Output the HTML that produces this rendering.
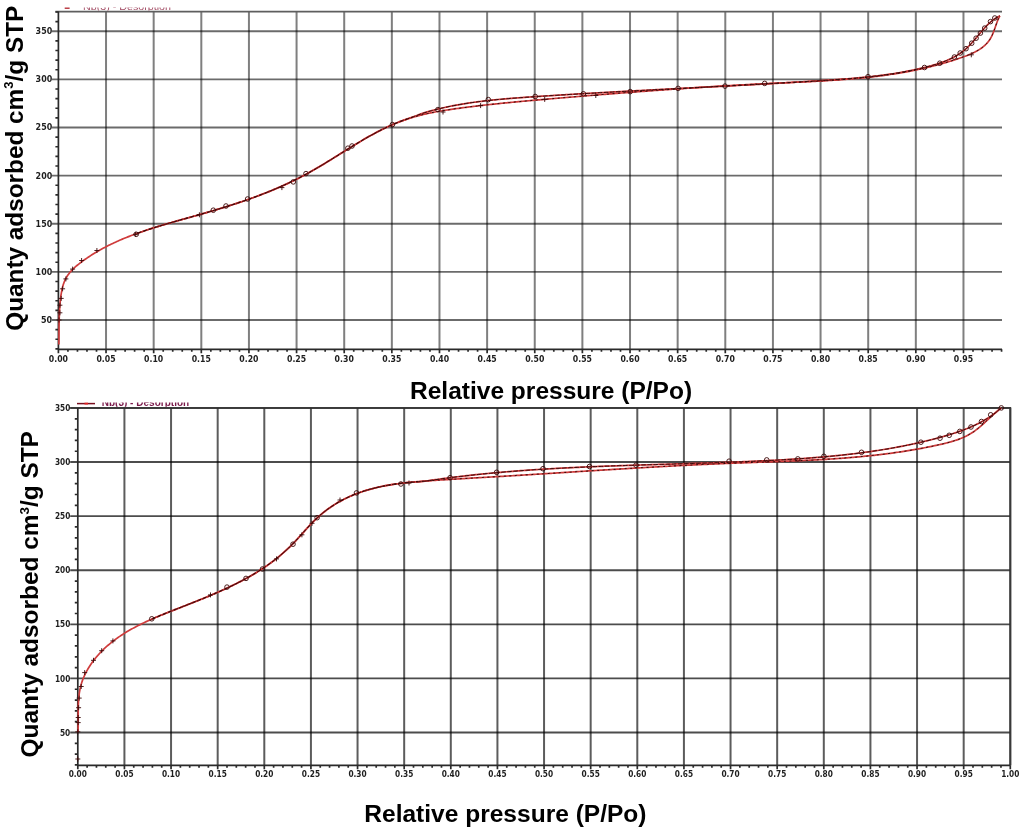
<!DOCTYPE html>
<html><head><meta charset="utf-8"><title>Isotherms</title>
<style>
html,body{margin:0;padding:0;background:#fff;}
body{width:1024px;height:831px;overflow:hidden;}
svg{display:block;}
</style></head><body>
<svg width="1024" height="831" viewBox="0 0 1024 831">
<rect width="1024" height="831" fill="#fff"/>
<defs>
<clipPath id="lg1"><rect x="60" y="7.4" width="130" height="3.2"/></clipPath>
<clipPath id="lg2"><rect x="95" y="402.4" width="100" height="4.3"/></clipPath>
</defs>
<path d="M106.03,11.6V349.3 M153.67,11.6V349.3 M201.31,11.6V349.3 M248.94,11.6V349.3 M296.57,11.6V349.3 M344.21,11.6V349.3 M391.85,11.6V349.3 M439.48,11.6V349.3 M487.12,11.6V349.3 M534.75,11.6V349.3 M582.38,11.6V349.3 M630.02,11.6V349.3 M677.65,11.6V349.3 M725.29,11.6V349.3 M772.93,11.6V349.3 M820.56,11.6V349.3 M868.2,11.6V349.3 M915.83,11.6V349.3 M963.47,11.6V349.3" stroke="#000" stroke-opacity="0.5" stroke-width="2" fill="none"/>
<path d="M52,319.98H1002 M52,271.85H1002 M52,223.73H1002 M52,175.6H1002 M52,127.48H1002 M52,79.35H1002 M52,31.23H1002" stroke="#000" stroke-opacity="0.58" stroke-width="1.9" fill="none"/>
<path d="M55.4,11.6H1002" stroke="#5e5e5e" stroke-width="1.8" fill="none"/>
<path d="M58.4,11.6V349.3 M58.4,349.3H1002 M55.4,348.85H58.4 M55.4,339.23H58.4 M55.4,329.6H58.4 M55.4,310.35H58.4 M55.4,300.73H58.4 M55.4,291.1H58.4 M55.4,281.48H58.4 M55.4,262.23H58.4 M55.4,252.6H58.4 M55.4,242.98H58.4 M55.4,233.35H58.4 M55.4,214.1H58.4 M55.4,204.48H58.4 M55.4,194.85H58.4 M55.4,185.23H58.4 M55.4,165.98H58.4 M55.4,156.35H58.4 M55.4,146.73H58.4 M55.4,137.1H58.4 M55.4,117.85H58.4 M55.4,108.23H58.4 M55.4,98.6H58.4 M55.4,88.98H58.4 M55.4,69.73H58.4 M55.4,60.1H58.4 M55.4,50.48H58.4 M55.4,40.85H58.4 M55.4,21.6H58.4 M55.4,11.98H58.4 M58.4,349.3V353.3 M67.93,349.3V351.8 M77.45,349.3V351.8 M86.98,349.3V351.8 M96.51,349.3V351.8 M106.03,349.3V353.3 M115.56,349.3V351.8 M125.09,349.3V351.8 M134.62,349.3V351.8 M144.14,349.3V351.8 M153.67,349.3V353.3 M163.2,349.3V351.8 M172.72,349.3V351.8 M182.25,349.3V351.8 M191.78,349.3V351.8 M201.31,349.3V353.3 M210.83,349.3V351.8 M220.36,349.3V351.8 M229.89,349.3V351.8 M239.41,349.3V351.8 M248.94,349.3V353.3 M258.47,349.3V351.8 M267.99,349.3V351.8 M277.52,349.3V351.8 M287.05,349.3V351.8 M296.57,349.3V353.3 M306.1,349.3V351.8 M315.63,349.3V351.8 M325.16,349.3V351.8 M334.68,349.3V351.8 M344.21,349.3V353.3 M353.74,349.3V351.8 M363.26,349.3V351.8 M372.79,349.3V351.8 M382.32,349.3V351.8 M391.84,349.3V353.3 M401.37,349.3V351.8 M410.9,349.3V351.8 M420.43,349.3V351.8 M429.95,349.3V351.8 M439.48,349.3V353.3 M449.01,349.3V351.8 M458.53,349.3V351.8 M468.06,349.3V351.8 M477.59,349.3V351.8 M487.12,349.3V353.3 M496.64,349.3V351.8 M506.17,349.3V351.8 M515.7,349.3V351.8 M525.22,349.3V351.8 M534.75,349.3V353.3 M544.28,349.3V351.8 M553.8,349.3V351.8 M563.33,349.3V351.8 M572.86,349.3V351.8 M582.38,349.3V353.3 M591.91,349.3V351.8 M601.44,349.3V351.8 M610.97,349.3V351.8 M620.49,349.3V351.8 M630.02,349.3V353.3 M639.55,349.3V351.8 M649.07,349.3V351.8 M658.6,349.3V351.8 M668.13,349.3V351.8 M677.65,349.3V353.3 M687.18,349.3V351.8 M696.71,349.3V351.8 M706.24,349.3V351.8 M715.76,349.3V351.8 M725.29,349.3V353.3 M734.82,349.3V351.8 M744.34,349.3V351.8 M753.87,349.3V351.8 M763.4,349.3V351.8 M772.93,349.3V353.3 M782.45,349.3V351.8 M791.98,349.3V351.8 M801.51,349.3V351.8 M811.03,349.3V351.8 M820.56,349.3V353.3 M830.09,349.3V351.8 M839.61,349.3V351.8 M849.14,349.3V351.8 M858.67,349.3V351.8 M868.2,349.3V353.3 M877.72,349.3V351.8 M887.25,349.3V351.8 M896.78,349.3V351.8 M906.3,349.3V351.8 M915.83,349.3V353.3 M925.36,349.3V351.8 M934.88,349.3V351.8 M944.41,349.3V351.8 M953.94,349.3V351.8 M963.47,349.3V353.3 M972.99,349.3V351.8 M982.52,349.3V351.8 M992.05,349.3V351.8 M1001.57,349.3V351.8" stroke="#2a2a2a" stroke-width="1.7" fill="none"/>
<g font-family="DejaVu Sans, Liberation Sans, sans-serif" font-weight="bold" font-size="8" fill="#1e1e1e"><text x="58.4" y="361.5" text-anchor="middle" textLength="19.2" lengthAdjust="spacingAndGlyphs">0.00</text><text x="106.03" y="361.5" text-anchor="middle" textLength="19.2" lengthAdjust="spacingAndGlyphs">0.05</text><text x="153.67" y="361.5" text-anchor="middle" textLength="19.2" lengthAdjust="spacingAndGlyphs">0.10</text><text x="201.31" y="361.5" text-anchor="middle" textLength="19.2" lengthAdjust="spacingAndGlyphs">0.15</text><text x="248.94" y="361.5" text-anchor="middle" textLength="19.2" lengthAdjust="spacingAndGlyphs">0.20</text><text x="296.57" y="361.5" text-anchor="middle" textLength="19.2" lengthAdjust="spacingAndGlyphs">0.25</text><text x="344.21" y="361.5" text-anchor="middle" textLength="19.2" lengthAdjust="spacingAndGlyphs">0.30</text><text x="391.85" y="361.5" text-anchor="middle" textLength="19.2" lengthAdjust="spacingAndGlyphs">0.35</text><text x="439.48" y="361.5" text-anchor="middle" textLength="19.2" lengthAdjust="spacingAndGlyphs">0.40</text><text x="487.12" y="361.5" text-anchor="middle" textLength="19.2" lengthAdjust="spacingAndGlyphs">0.45</text><text x="534.75" y="361.5" text-anchor="middle" textLength="19.2" lengthAdjust="spacingAndGlyphs">0.50</text><text x="582.38" y="361.5" text-anchor="middle" textLength="19.2" lengthAdjust="spacingAndGlyphs">0.55</text><text x="630.02" y="361.5" text-anchor="middle" textLength="19.2" lengthAdjust="spacingAndGlyphs">0.60</text><text x="677.65" y="361.5" text-anchor="middle" textLength="19.2" lengthAdjust="spacingAndGlyphs">0.65</text><text x="725.29" y="361.5" text-anchor="middle" textLength="19.2" lengthAdjust="spacingAndGlyphs">0.70</text><text x="772.93" y="361.5" text-anchor="middle" textLength="19.2" lengthAdjust="spacingAndGlyphs">0.75</text><text x="820.56" y="361.5" text-anchor="middle" textLength="19.2" lengthAdjust="spacingAndGlyphs">0.80</text><text x="868.2" y="361.5" text-anchor="middle" textLength="19.2" lengthAdjust="spacingAndGlyphs">0.85</text><text x="915.83" y="361.5" text-anchor="middle" textLength="19.2" lengthAdjust="spacingAndGlyphs">0.90</text><text x="963.47" y="361.5" text-anchor="middle" textLength="19.2" lengthAdjust="spacingAndGlyphs">0.95</text><text x="52.2" y="322.88" text-anchor="end" textLength="11.2" lengthAdjust="spacingAndGlyphs">50</text><text x="52.2" y="274.75" text-anchor="end" textLength="16.6" lengthAdjust="spacingAndGlyphs">100</text><text x="52.2" y="226.63" text-anchor="end" textLength="16.6" lengthAdjust="spacingAndGlyphs">150</text><text x="52.2" y="178.5" text-anchor="end" textLength="16.6" lengthAdjust="spacingAndGlyphs">200</text><text x="52.2" y="130.38" text-anchor="end" textLength="16.6" lengthAdjust="spacingAndGlyphs">250</text><text x="52.2" y="82.25" text-anchor="end" textLength="16.6" lengthAdjust="spacingAndGlyphs">300</text><text x="52.2" y="34.13" text-anchor="end" textLength="16.6" lengthAdjust="spacingAndGlyphs">350</text></g>
<clipPath id="ct"><rect x="136" y="1.6" width="886" height="357.7"/></clipPath>
<path d="M58.9,344.4 L58.92,342.89 L58.94,341.38 L58.96,339.87 L58.97,338.37 L58.98,336.87 L58.99,335.37 L59,333.88 L59.01,332.39 L59.02,330.89 L59.03,329.41 L59.04,327.92 L59.06,326.43 L59.08,324.94 L59.1,323.45 L59.13,321.96 L59.16,320.48 L59.2,318.98 L59.24,317.49 L59.29,316 L59.35,314.5 L59.41,313 L59.49,311.5 L59.57,309.99 L59.67,308.48 L59.77,306.96 L59.89,305.44 L60.01,303.92 L60.15,302.39 L60.31,300.85 L60.47,299.31 L60.65,297.76 L60.85,296.21 L61.07,294.66 L61.32,293.11 L61.59,291.57 L61.89,290.04 L62.23,288.53 L62.6,287.03 L63.01,285.55 L63.47,284.09 L63.97,282.67 L64.52,281.27 L65.12,279.91 L65.78,278.58 L66.5,277.29 L67.27,276.04 L68.1,274.83 L68.97,273.65 L69.88,272.5 L70.84,271.38 L71.83,270.3 L72.86,269.24 L73.93,268.2 L75.02,267.19 L76.14,266.21 L77.28,265.24 L78.45,264.29 L79.62,263.36 L80.82,262.45 L82.02,261.55 L83.23,260.67 L84.45,259.8 L85.68,258.94 L86.91,258.09 L88.15,257.25 L89.39,256.43 L90.64,255.61 L91.9,254.81 L93.16,254.02 L94.43,253.24 L95.71,252.48 L96.99,251.72 L98.27,250.97 L99.57,250.23 L100.86,249.51 L102.17,248.79 L103.48,248.09 L104.79,247.39 L106.11,246.7 L107.43,246.03 L108.76,245.36 L110.1,244.7 L111.44,244.05 L112.78,243.41 L114.13,242.78 L115.48,242.15 L116.84,241.54 L118.2,240.93 L119.57,240.33 L120.94,239.74 L122.31,239.15 L123.69,238.58 L125.07,238.01 L126.46,237.45 L127.85,236.89 L129.24,236.34 L130.64,235.8 L132.04,235.27 L133.44,234.74 L134.85,234.22 L136.26,233.7 L137.67,233.19 L139.09,232.68 L140.51,232.19 L141.93,231.69 L143.35,231.2 L144.78,230.72 L146.21,230.24 L147.64,229.77 L149.07,229.3 L150.51,228.83 L151.95,228.37 L153.39,227.92 L154.83,227.46 L156.27,227.02 L157.72,226.57 L159.17,226.13 L160.62,225.69 L162.07,225.25 L163.52,224.82 L164.97,224.39 L166.42,223.96 L167.88,223.54 L169.34,223.12 L170.79,222.7 L172.25,222.28 L173.71,221.86 L175.17,221.45 L176.63,221.03 L178.09,220.62 L179.55,220.21 L181.01,219.8 L182.47,219.39 L183.93,218.98 L185.39,218.58 L186.85,218.17 L188.31,217.76 L189.77,217.35 L191.23,216.95 L192.69,216.54 L194.15,216.13 L195.6,215.72 L197.06,215.31 L198.52,214.9 L199.97,214.49 L201.43,214.07 L202.88,213.66 L204.33,213.24 L205.78,212.83 L207.23,212.41 L208.68,211.99 L210.12,211.56 L211.57,211.14 L213.02,210.71 L214.46,210.29 L215.9,209.86 L217.34,209.42 L218.78,208.99 L220.22,208.55 L221.66,208.11 L223.09,207.67 L224.53,207.23 L225.96,206.78 L227.39,206.34 L228.82,205.88 L230.25,205.43 L231.68,204.97 L233.1,204.51 L234.53,204.05 L235.95,203.59 L237.37,203.12 L238.79,202.65 L240.21,202.17 L241.62,201.69 L243.04,201.21 L244.45,200.73 L245.86,200.24 L247.27,199.75 L248.68,199.25 L250.09,198.75 L251.49,198.25 L252.9,197.74 L254.3,197.23 L255.7,196.72 L257.09,196.2 L258.49,195.68 L259.88,195.15 L261.28,194.62 L262.67,194.08 L264.06,193.54 L265.44,193 L266.83,192.45 L268.21,191.89 L269.59,191.34 L270.97,190.77 L272.35,190.21 L273.72,189.63 L275.1,189.05 L276.47,188.47 L277.84,187.88 L279.21,187.29 L280.57,186.69 L281.93,186.09 L283.29,185.48 L284.65,184.86 L286.01,184.24 L287.36,183.62 L288.72,182.99 L290.07,182.35 L291.41,181.71 L292.76,181.06 L294.1,180.4 L295.44,179.74 L296.78,179.08 L298.12,178.4 L299.45,177.72 L300.79,177.04 L302.12,176.34 L303.44,175.65 L304.77,174.94 L306.09,174.23 L307.41,173.51 L308.73,172.79 L310.04,172.05 L311.35,171.32 L312.67,170.57 L313.97,169.82 L315.28,169.07 L316.59,168.31 L317.89,167.55 L319.19,166.78 L320.49,166 L321.79,165.23 L323.09,164.45 L324.38,163.66 L325.68,162.88 L326.97,162.09 L328.26,161.29 L329.55,160.5 L330.84,159.7 L332.13,158.9 L333.42,158.1 L334.71,157.3 L336,156.49 L337.29,155.69 L338.58,154.89 L339.87,154.08 L341.15,153.28 L342.44,152.47 L343.73,151.67 L345.02,150.86 L346.31,150.06 L347.6,149.26 L348.88,148.46 L350.18,147.66 L351.47,146.87 L352.76,146.07 L354.05,145.28 L355.34,144.5 L356.64,143.71 L357.93,142.93 L359.23,142.15 L360.53,141.38 L361.83,140.61 L363.13,139.85 L364.43,139.09 L365.74,138.33 L367.05,137.59 L368.36,136.84 L369.67,136.1 L370.98,135.37 L372.29,134.65 L373.61,133.93 L374.93,133.22 L376.25,132.51 L377.58,131.81 L378.91,131.13 L380.24,130.44 L381.57,129.77 L382.91,129.11 L384.25,128.45 L385.59,127.8 L386.94,127.17 L388.29,126.54 L389.64,125.92 L390.99,125.31 L392.35,124.71 L393.72,124.13 L395.09,123.55 L396.46,122.99 L397.83,122.43 L399.21,121.89 L400.6,121.36 L401.99,120.84 L403.38,120.34 L404.78,119.85 L406.18,119.37 L407.58,118.9 L408.99,118.44 L410.41,118 L411.83,117.57 L413.25,117.15 L414.68,116.74 L416.11,116.34 L417.54,115.96 L418.98,115.58 L420.42,115.21 L421.87,114.86 L423.31,114.51 L424.76,114.17 L426.22,113.84 L427.67,113.52 L429.13,113.21 L430.59,112.91 L432.06,112.61 L433.52,112.32 L434.99,112.04 L436.46,111.77 L437.94,111.5 L439.41,111.24 L440.89,110.99 L442.37,110.74 L443.85,110.49 L445.33,110.25 L446.81,110.02 L448.3,109.79 L449.78,109.57 L451.27,109.35 L452.75,109.13 L454.24,108.92 L455.73,108.71 L457.22,108.51 L458.71,108.31 L460.2,108.1 L461.69,107.91 L463.18,107.71 L464.67,107.52 L466.16,107.33 L467.65,107.14 L469.14,106.95 L470.64,106.76 L472.13,106.58 L473.62,106.4 L475.11,106.22 L476.6,106.04 L478.1,105.87 L479.59,105.69 L481.08,105.52 L482.57,105.35 L484.07,105.18 L485.56,105.01 L487.05,104.85 L488.55,104.68 L490.04,104.52 L491.53,104.36 L493.03,104.2 L494.52,104.04 L496.02,103.89 L497.51,103.73 L499,103.58 L500.5,103.42 L501.99,103.27 L503.49,103.12 L504.98,102.97 L506.48,102.83 L507.97,102.68 L509.47,102.53 L510.96,102.39 L512.46,102.25 L513.95,102.1 L515.45,101.96 L516.94,101.82 L518.44,101.68 L519.93,101.54 L521.43,101.41 L522.93,101.27 L524.42,101.13 L525.92,101 L527.41,100.86 L528.91,100.73 L530.4,100.59 L531.9,100.46 L533.4,100.33 L534.89,100.2 L536.39,100.06 L537.88,99.93 L539.38,99.8 L540.88,99.67 L542.37,99.54 L543.87,99.41 L545.36,99.28 L546.86,99.15 L548.35,99.02 L549.85,98.89 L551.35,98.76 L552.84,98.63 L554.34,98.51 L555.83,98.38 L557.33,98.25 L558.82,98.12 L560.32,97.99 L561.82,97.87 L563.31,97.74 L564.81,97.61 L566.3,97.49 L567.8,97.36 L569.29,97.23 L570.79,97.11 L572.29,96.98 L573.78,96.86 L575.28,96.73 L576.77,96.61 L578.27,96.48 L579.76,96.36 L581.26,96.23 L582.76,96.11 L584.25,95.99 L585.75,95.86 L587.24,95.74 L588.74,95.62 L590.23,95.49 L591.73,95.37 L593.23,95.25 L594.72,95.13 L596.22,95.01 L597.71,94.89 L599.21,94.77 L600.71,94.64 L602.2,94.52 L603.7,94.4 L605.19,94.28 L606.69,94.17 L608.18,94.05 L609.68,93.93 L611.18,93.81 L612.67,93.69 L614.17,93.57 L615.67,93.46 L617.16,93.34 L618.66,93.22 L620.15,93.11 L621.65,92.99 L623.15,92.87 L624.64,92.76 L626.14,92.64 L627.64,92.53 L629.13,92.41 L630.63,92.3 L632.13,92.19 L633.62,92.07 L635.12,91.96 L636.62,91.85 L638.11,91.73 L639.61,91.62 L641.11,91.51 L642.6,91.4 L644.1,91.29 L645.6,91.18 L647.09,91.07 L648.59,90.96 L650.09,90.85 L651.59,90.74 L653.08,90.63 L654.58,90.52 L656.08,90.41 L657.57,90.3 L659.07,90.2 L660.57,90.09 L662.07,89.98 L663.57,89.88 L665.06,89.77 L666.56,89.67 L668.06,89.56 L669.56,89.46 L671.06,89.35 L672.55,89.25 L674.05,89.15 L675.55,89.04 L677.05,88.94 L678.55,88.84 L680.05,88.74 L681.54,88.63 L683.04,88.53 L684.54,88.43 L686.04,88.33 L687.54,88.23 L689.04,88.13 L690.54,88.03 L692.04,87.94 L693.54,87.84 L695.03,87.74 L696.53,87.64 L698.03,87.55 L699.53,87.45 L701.03,87.36 L702.53,87.26 L704.03,87.17 L705.53,87.07 L707.03,86.98 L708.53,86.88 L710.03,86.79 L711.53,86.7 L713.03,86.61 L714.54,86.51 L716.04,86.42 L717.54,86.33 L719.04,86.24 L720.54,86.15 L722.04,86.06 L723.54,85.97 L725.04,85.88 L726.54,85.8 L728.05,85.71 L729.55,85.62 L731.05,85.54 L732.55,85.45 L734.05,85.36 L735.55,85.28 L737.06,85.19 L738.56,85.11 L740.06,85.03 L741.56,84.94 L743.07,84.86 L744.57,84.78 L746.07,84.7 L747.58,84.62 L749.08,84.54 L750.58,84.46 L752.09,84.38 L753.59,84.3 L755.09,84.22 L756.6,84.14 L758.1,84.07 L759.61,83.99 L761.11,83.91 L762.61,83.84 L764.12,83.76 L765.62,83.69 L767.13,83.61 L768.63,83.54 L770.14,83.47 L771.64,83.39 L773.15,83.32 L774.66,83.25 L776.16,83.18 L777.67,83.11 L779.17,83.04 L780.68,82.97 L782.19,82.9 L783.69,82.83 L785.2,82.76 L786.7,82.69 L788.21,82.62 L789.72,82.55 L791.22,82.48 L792.73,82.41 L794.24,82.34 L795.74,82.27 L797.25,82.2 L798.75,82.13 L800.26,82.06 L801.77,81.99 L803.27,81.92 L804.78,81.84 L806.28,81.77 L807.79,81.69 L809.3,81.62 L810.8,81.54 L812.31,81.46 L813.81,81.38 L815.32,81.3 L816.82,81.22 L818.33,81.14 L819.83,81.06 L821.34,80.97 L822.84,80.88 L824.34,80.8 L825.85,80.71 L827.35,80.62 L828.85,80.52 L830.36,80.43 L831.86,80.33 L833.36,80.23 L834.86,80.13 L836.36,80.03 L837.87,79.93 L839.37,79.82 L840.87,79.71 L842.37,79.6 L843.87,79.49 L845.37,79.37 L846.86,79.25 L848.36,79.13 L849.86,79.01 L851.36,78.88 L852.86,78.76 L854.35,78.63 L855.85,78.49 L857.34,78.36 L858.84,78.22 L860.33,78.07 L861.83,77.93 L863.32,77.78 L864.81,77.63 L866.31,77.47 L867.8,77.31 L869.29,77.15 L870.78,76.99 L872.27,76.82 L873.76,76.65 L875.25,76.47 L876.74,76.29 L878.22,76.11 L879.71,75.92 L881.2,75.73 L882.68,75.54 L884.17,75.34 L885.65,75.14 L887.14,74.93 L888.62,74.72 L890.1,74.5 L891.58,74.28 L893.06,74.06 L894.54,73.83 L896.02,73.6 L897.5,73.36 L898.98,73.12 L900.45,72.87 L901.93,72.62 L903.4,72.37 L904.88,72.11 L906.35,71.84 L907.82,71.57 L909.29,71.3 L910.76,71.02 L912.23,70.73 L913.7,70.44 L915.17,70.14 L916.63,69.84 L918.1,69.53 L919.56,69.22 L921.03,68.9 L922.49,68.58 L923.95,68.25 L925.41,67.92 L926.87,67.58 L928.33,67.23 L929.79,66.88 L931.24,66.52 L932.7,66.16 L934.15,65.79 L935.6,65.41 L937.06,65.03 L938.51,64.64 L939.96,64.24 L941.41,63.84 L942.85,63.43 L944.3,63.02 L945.74,62.6 L947.19,62.17 L948.63,61.74 L950.07,61.3 L951.51,60.85 L952.95,60.39 L954.39,59.93 L955.82,59.46 L957.26,58.99 L958.69,58.5 L960.13,58.01 L961.56,57.52 L962.99,57.01 L964.41,56.5 L965.83,55.97 L967.24,55.43 L968.64,54.87 L970.03,54.3 L971.41,53.71 L972.77,53.09 L974.1,52.45 L975.42,51.78 L976.72,51.09 L977.99,50.36 L979.23,49.6 L980.44,48.81 L981.62,47.98 L982.76,47.11 L983.87,46.19 L984.94,45.24 L985.97,44.24 L986.96,43.19 L987.9,42.1 L988.8,40.95 L989.64,39.74 L990.44,38.49 L991.18,37.17 L991.87,35.8 L992.52,34.39 L993.13,32.95 L993.71,31.47 L994.27,29.98 L994.81,28.47 L995.34,26.97 L995.86,25.46 L996.38,23.98 L996.91,22.51 L997.46,21.07 L998.02,19.68 L998.61,18.33 L999.23,17.03 L999.89,15.8" stroke="#cf3c3c" stroke-width="1.7" fill="none" stroke-linejoin="round"/>
<g clip-path="url(#ct)">
<path d="M58.9,344.4 L58.92,342.89 L58.94,341.38 L58.96,339.87 L58.97,338.37 L58.98,336.87 L58.99,335.37 L59,333.88 L59.01,332.39 L59.02,330.89 L59.03,329.41 L59.04,327.92 L59.06,326.43 L59.08,324.94 L59.1,323.45 L59.13,321.96 L59.16,320.48 L59.2,318.98 L59.24,317.49 L59.29,316 L59.35,314.5 L59.41,313 L59.49,311.5 L59.57,309.99 L59.67,308.48 L59.77,306.96 L59.89,305.44 L60.01,303.92 L60.15,302.39 L60.31,300.85 L60.47,299.31 L60.65,297.76 L60.85,296.21 L61.07,294.66 L61.32,293.11 L61.59,291.57 L61.89,290.04 L62.23,288.53 L62.6,287.03 L63.01,285.55 L63.47,284.09 L63.97,282.67 L64.52,281.27 L65.12,279.91 L65.78,278.58 L66.5,277.29 L67.27,276.04 L68.1,274.83 L68.97,273.65 L69.88,272.5 L70.84,271.38 L71.83,270.3 L72.86,269.24 L73.93,268.2 L75.02,267.19 L76.14,266.21 L77.28,265.24 L78.45,264.29 L79.62,263.36 L80.82,262.45 L82.02,261.55 L83.23,260.67 L84.45,259.8 L85.68,258.94 L86.91,258.09 L88.15,257.25 L89.39,256.43 L90.64,255.61 L91.9,254.81 L93.16,254.02 L94.43,253.24 L95.71,252.48 L96.99,251.72 L98.27,250.97 L99.57,250.23 L100.86,249.51 L102.17,248.79 L103.48,248.09 L104.79,247.39 L106.11,246.7 L107.43,246.03 L108.76,245.36 L110.1,244.7 L111.44,244.05 L112.78,243.41 L114.13,242.78 L115.48,242.15 L116.84,241.54 L118.2,240.93 L119.57,240.33 L120.94,239.74 L122.31,239.15 L123.69,238.58 L125.07,238.01 L126.46,237.45 L127.85,236.89 L129.24,236.34 L130.64,235.8 L132.04,235.27 L133.44,234.74 L134.85,234.22 L136.26,233.7 L137.67,233.19 L139.09,232.68 L140.51,232.19 L141.93,231.69 L143.35,231.2 L144.78,230.72 L146.21,230.24 L147.64,229.77 L149.07,229.3 L150.51,228.83 L151.95,228.37 L153.39,227.92 L154.83,227.46 L156.27,227.02 L157.72,226.57 L159.17,226.13 L160.62,225.69 L162.07,225.25 L163.52,224.82 L164.97,224.39 L166.42,223.96 L167.88,223.54 L169.34,223.12 L170.79,222.7 L172.25,222.28 L173.71,221.86 L175.17,221.45 L176.63,221.03 L178.09,220.62 L179.55,220.21 L181.01,219.8 L182.47,219.39 L183.93,218.98 L185.39,218.58 L186.85,218.17 L188.31,217.76 L189.77,217.35 L191.23,216.95 L192.69,216.54 L194.15,216.13 L195.6,215.72 L197.06,215.31 L198.52,214.9 L199.97,214.49 L201.43,214.07 L202.88,213.66 L204.33,213.24 L205.78,212.83 L207.23,212.41 L208.68,211.99 L210.12,211.56 L211.57,211.14 L213.02,210.71 L214.46,210.29 L215.9,209.86 L217.34,209.42 L218.78,208.99 L220.22,208.55 L221.66,208.11 L223.09,207.67 L224.53,207.23 L225.96,206.78 L227.39,206.34 L228.82,205.88 L230.25,205.43 L231.68,204.97 L233.1,204.51 L234.53,204.05 L235.95,203.59 L237.37,203.12 L238.79,202.65 L240.21,202.17 L241.62,201.69 L243.04,201.21 L244.45,200.73 L245.86,200.24 L247.27,199.75 L248.68,199.25 L250.09,198.75 L251.49,198.25 L252.9,197.74 L254.3,197.23 L255.7,196.72 L257.09,196.2 L258.49,195.68 L259.88,195.15 L261.28,194.62 L262.67,194.08 L264.06,193.54 L265.44,193 L266.83,192.45 L268.21,191.89 L269.59,191.34 L270.97,190.77 L272.35,190.21 L273.72,189.63 L275.1,189.05 L276.47,188.47 L277.84,187.88 L279.21,187.29 L280.57,186.69 L281.93,186.09 L283.29,185.48 L284.65,184.86 L286.01,184.24 L287.36,183.62 L288.72,182.99 L290.07,182.35 L291.41,181.71 L292.76,181.06 L294.1,180.4 L295.44,179.74 L296.78,179.08 L298.12,178.4 L299.45,177.72 L300.79,177.04 L302.12,176.34 L303.44,175.65 L304.77,174.94 L306.09,174.23 L307.41,173.51 L308.73,172.79 L310.04,172.05 L311.35,171.32 L312.67,170.57 L313.97,169.82 L315.28,169.07 L316.59,168.31 L317.89,167.55 L319.19,166.78 L320.49,166 L321.79,165.23 L323.09,164.45 L324.38,163.66 L325.68,162.88 L326.97,162.09 L328.26,161.29 L329.55,160.5 L330.84,159.7 L332.13,158.9 L333.42,158.1 L334.71,157.3 L336,156.49 L337.29,155.69 L338.58,154.89 L339.87,154.08 L341.15,153.28 L342.44,152.47 L343.73,151.67 L345.02,150.86 L346.31,150.06 L347.6,149.26 L348.88,148.46 L350.18,147.66 L351.47,146.87 L352.76,146.07 L354.05,145.28 L355.34,144.5 L356.64,143.71 L357.93,142.93 L359.23,142.15 L360.53,141.38 L361.83,140.61 L363.13,139.85 L364.43,139.09 L365.74,138.33 L367.05,137.59 L368.36,136.84 L369.67,136.1 L370.98,135.37 L372.29,134.65 L373.61,133.93 L374.93,133.22 L376.25,132.51 L377.58,131.81 L378.91,131.13 L380.24,130.44 L381.57,129.77 L382.91,129.11 L384.25,128.45 L385.59,127.8 L386.94,127.17 L388.29,126.54 L389.64,125.92 L390.99,125.31 L392.35,124.71 L393.72,124.13 L395.09,123.55 L396.46,122.99 L397.83,122.43 L399.21,121.89 L400.6,121.36 L401.99,120.84 L403.38,120.33 L404.78,119.83 L406.18,119.33 L407.58,118.83 L408.99,118.33 L410.41,117.82 L411.83,117.3 L413.25,116.78 L414.68,116.26 L416.11,115.73 L417.54,115.19 L418.98,114.66 L420.42,114.13 L421.87,113.62 L423.31,113.12 L424.76,112.64 L427.42,111.85 L428.85,111.44 L430.28,111.04 L431.72,110.65 L433.15,110.27 L434.59,109.89 L436.03,109.52 L437.47,109.16 L438.92,108.81 L440.36,108.46 L441.81,108.12 L443.27,107.79 L444.72,107.47 L446.17,107.15 L447.63,106.84 L449.09,106.53 L450.55,106.24 L452.02,105.94 L453.48,105.66 L454.95,105.38 L456.42,105.11 L457.89,104.84 L459.37,104.58 L460.84,104.32 L462.32,104.07 L463.79,103.83 L465.27,103.59 L466.75,103.36 L468.24,103.13 L469.72,102.91 L471.21,102.69 L472.69,102.48 L474.18,102.27 L475.67,102.06 L477.16,101.87 L478.65,101.67 L480.15,101.48 L481.64,101.3 L483.14,101.11 L484.63,100.94 L486.13,100.76 L487.63,100.6 L489.13,100.43 L490.63,100.27 L492.13,100.11 L493.63,99.96 L495.14,99.8 L496.64,99.66 L498.15,99.51 L499.65,99.37 L501.16,99.23 L502.66,99.09 L504.17,98.96 L505.68,98.83 L507.19,98.7 L508.7,98.58 L510.2,98.45 L511.71,98.33 L513.22,98.21 L514.73,98.1 L516.24,97.98 L517.75,97.87 L519.27,97.75 L520.78,97.64 L522.29,97.54 L523.8,97.43 L525.31,97.32 L526.82,97.22 L528.33,97.11 L529.84,97.01 L531.35,96.91 L532.86,96.81 L534.37,96.71 L535.88,96.61 L537.39,96.51 L538.9,96.41 L540.41,96.31 L541.92,96.21 L543.43,96.11 L544.94,96.02 L546.45,95.92 L547.95,95.82 L549.46,95.73 L550.97,95.63 L552.48,95.53 L553.98,95.44 L555.49,95.35 L557,95.25 L558.5,95.16 L560.01,95.06 L561.51,94.97 L563.02,94.88 L564.52,94.79 L566.03,94.69 L567.53,94.6 L569.04,94.51 L570.54,94.42 L572.05,94.33 L573.55,94.24 L575.05,94.15 L576.56,94.06 L578.06,93.97 L579.56,93.89 L581.07,93.8 L582.57,93.71 L584.07,93.62 L585.57,93.53 L587.08,93.45 L588.58,93.36 L590.08,93.27 L591.58,93.19 L593.08,93.1 L594.58,93.02 L596.09,92.93 L597.59,92.85 L599.09,92.76 L600.59,92.68 L602.09,92.59 L603.59,92.51 L605.09,92.43 L606.59,92.34 L608.09,92.26 L609.59,92.18 L611.09,92.09 L612.59,92.01 L614.08,91.93 L615.58,91.85 L617.08,91.77 L618.58,91.68 L620.08,91.6 L621.58,91.52 L623.08,91.44 L624.57,91.36 L626.07,91.28 L627.57,91.2 L629.07,91.12 L630.57,91.04 L632.06,90.96 L633.56,90.88 L635.06,90.8 L636.56,90.72 L638.05,90.64 L639.55,90.56 L641.05,90.48 L642.54,90.4 L644.04,90.33 L645.54,90.25 L647.03,90.17 L648.53,90.09 L650.03,90.01 L651.52,89.93 L653.02,89.86 L654.51,89.78 L656.01,89.7 L657.51,89.62 L659,89.55 L660.5,89.47 L661.99,89.39 L663.49,89.31 L664.98,89.24 L666.48,89.16 L667.98,89.08 L669.47,89 L670.97,88.93 L672.46,88.85 L673.96,88.77 L675.45,88.7 L676.95,88.62 L678.44,88.54 L679.94,88.47 L681.43,88.39 L682.93,88.31 L684.42,88.23 L685.92,88.16 L687.41,88.08 L688.91,88 L690.4,87.93 L691.9,87.85 L693.39,87.77 L694.89,87.7 L696.38,87.62 L697.88,87.54 L699.37,87.46 L700.87,87.39 L702.36,87.31 L703.86,87.23 L705.35,87.16 L706.85,87.08 L708.34,87 L709.84,86.92 L711.33,86.85 L712.83,86.77 L714.32,86.69 L715.82,86.61 L717.31,86.53 L718.81,86.46 L720.3,86.38 L721.8,86.3 L723.29,86.22 L724.79,86.14 L726.28,86.06 L727.78,85.99 L729.27,85.91 L730.77,85.83 L732.26,85.75 L733.76,85.67 L735.25,85.59 L736.75,85.51 L738.25,85.43 L739.74,85.35 L741.24,85.27 L742.73,85.19 L744.23,85.11 L745.72,85.03 L747.22,84.95 L748.72,84.87 L750.21,84.78 L751.71,84.7 L753.21,84.62 L754.7,84.54 L756.2,84.46 L757.7,84.37 L759.19,84.29 L760.69,84.21 L762.19,84.13 L763.68,84.04 L765.18,83.96 L766.68,83.87 L768.18,83.79 L769.67,83.71 L771.17,83.62 L772.67,83.54 L774.17,83.45 L775.66,83.37 L777.16,83.28 L778.66,83.19 L780.16,83.11 L781.66,83.02 L783.16,82.93 L784.65,82.85 L786.15,82.76 L787.65,82.67 L789.15,82.58 L790.65,82.49 L792.15,82.41 L793.65,82.32 L795.15,82.23 L796.65,82.14 L798.15,82.05 L799.65,81.96 L801.15,81.86 L802.65,81.77 L804.15,81.68 L805.65,81.59 L807.16,81.5 L808.66,81.4 L810.16,81.31 L811.66,81.22 L813.16,81.12 L814.66,81.03 L816.17,80.93 L817.67,80.84 L819.17,80.74 L820.67,80.65 L822.18,80.55 L823.68,80.45 L825.18,80.35 L826.69,80.26 L828.19,80.16 L829.7,80.06 L831.2,79.96 L832.7,79.85 L834.21,79.75 L835.71,79.65 L837.22,79.54 L838.72,79.43 L840.22,79.32 L841.73,79.21 L843.23,79.1 L844.74,78.98 L846.24,78.87 L847.74,78.75 L849.25,78.63 L850.75,78.51 L852.25,78.38 L853.76,78.25 L855.26,78.12 L856.76,77.99 L858.26,77.85 L859.76,77.71 L861.27,77.57 L862.77,77.43 L864.27,77.28 L865.77,77.13 L867.27,76.97 L868.77,76.82 L870.27,76.66 L871.77,76.49 L873.26,76.32 L874.76,76.15 L876.26,75.97 L877.75,75.79 L879.25,75.61 L880.75,75.42 L882.24,75.22 L883.74,75.03 L885.23,74.82 L886.72,74.62 L888.21,74.4 L889.71,74.19 L891.2,73.97 L892.69,73.74 L894.18,73.51 L895.67,73.27 L897.15,73.03 L898.64,72.78 L900.13,72.53 L901.61,72.27 L903.1,72.01 L904.58,71.74 L906.06,71.46 L907.54,71.18 L909.02,70.89 L910.5,70.6 L911.98,70.3 L913.46,69.99 L914.94,69.67 L916.41,69.35 L917.89,69.03 L919.36,68.69 L920.83,68.35 L922.3,68.01 L923.77,67.65 L925.24,67.29 L926.71,66.92 L928.18,66.54 L929.64,66.16 L931.1,65.76 L932.55,65.35 L934,64.93 L935.45,64.5 L936.88,64.05 L938.32,63.59 L939.74,63.12 L941.15,62.62 L942.56,62.11 L943.96,61.59 L945.34,61.04 L946.72,60.48 L948.08,59.89 L949.44,59.29 L950.77,58.66 L952.1,58.01 L953.41,57.33 L954.71,56.63 L955.99,55.91 L957.25,55.16 L958.5,54.38 L959.73,53.57 L960.94,52.74 L962.13,51.87 L963.3,50.98 L964.45,50.05 L965.58,49.09 L966.69,48.1 L967.78,47.08 L968.85,46.03 L969.9,44.95 L970.94,43.85 L971.96,42.74 L972.98,41.6 L973.98,40.45 L974.98,39.29 L975.97,38.12 L976.95,36.94 L977.94,35.76 L978.92,34.58 L979.9,33.4 L980.89,32.23 L981.88,31.07 L982.88,29.91 L983.89,28.77 L984.9,27.65 L985.93,26.54 L986.98,25.46 L988.04,24.4 L989.11,23.37 L990.21,22.37 L991.33,21.4 L992.47,20.47 L993.63,19.58 L994.82,18.73 L996.04,17.92 L997.29,17.16 L998.58,16.45 L999.89,15.8" stroke="#cf3c3c" stroke-width="1.7" fill="none" stroke-linejoin="round"/>
<path d="M58.9,344.4 L58.92,342.89 L58.94,341.38 L58.96,339.87 L58.97,338.37 L58.98,336.87 L58.99,335.37 L59,333.88 L59.01,332.39 L59.02,330.89 L59.03,329.41 L59.04,327.92 L59.06,326.43 L59.08,324.94 L59.1,323.45 L59.13,321.96 L59.16,320.48 L59.2,318.98 L59.24,317.49 L59.29,316 L59.35,314.5 L59.41,313 L59.49,311.5 L59.57,309.99 L59.67,308.48 L59.77,306.96 L59.89,305.44 L60.01,303.92 L60.15,302.39 L60.31,300.85 L60.47,299.31 L60.65,297.76 L60.85,296.21 L61.07,294.66 L61.32,293.11 L61.59,291.57 L61.89,290.04 L62.23,288.53 L62.6,287.03 L63.01,285.55 L63.47,284.09 L63.97,282.67 L64.52,281.27 L65.12,279.91 L65.78,278.58 L66.5,277.29 L67.27,276.04 L68.1,274.83 L68.97,273.65 L69.88,272.5 L70.84,271.38 L71.83,270.3 L72.86,269.24 L73.93,268.2 L75.02,267.19 L76.14,266.21 L77.28,265.24 L78.45,264.29 L79.62,263.36 L80.82,262.45 L82.02,261.55 L83.23,260.67 L84.45,259.8 L85.68,258.94 L86.91,258.09 L88.15,257.25 L89.39,256.43 L90.64,255.61 L91.9,254.81 L93.16,254.02 L94.43,253.24 L95.71,252.48 L96.99,251.72 L98.27,250.97 L99.57,250.23 L100.86,249.51 L102.17,248.79 L103.48,248.09 L104.79,247.39 L106.11,246.7 L107.43,246.03 L108.76,245.36 L110.1,244.7 L111.44,244.05 L112.78,243.41 L114.13,242.78 L115.48,242.15 L116.84,241.54 L118.2,240.93 L119.57,240.33 L120.94,239.74 L122.31,239.15 L123.69,238.58 L125.07,238.01 L126.46,237.45 L127.85,236.89 L129.24,236.34 L130.64,235.8 L132.04,235.27 L133.44,234.74 L134.85,234.22 L136.26,233.7 L137.67,233.19 L139.09,232.68 L140.51,232.19 L141.93,231.69 L143.35,231.2 L144.78,230.72 L146.21,230.24 L147.64,229.77 L149.07,229.3 L150.51,228.83 L151.95,228.37 L153.39,227.92 L154.83,227.46 L156.27,227.02 L157.72,226.57 L159.17,226.13 L160.62,225.69 L162.07,225.25 L163.52,224.82 L164.97,224.39 L166.42,223.96 L167.88,223.54 L169.34,223.12 L170.79,222.7 L172.25,222.28 L173.71,221.86 L175.17,221.45 L176.63,221.03 L178.09,220.62 L179.55,220.21 L181.01,219.8 L182.47,219.39 L183.93,218.98 L185.39,218.58 L186.85,218.17 L188.31,217.76 L189.77,217.35 L191.23,216.95 L192.69,216.54 L194.15,216.13 L195.6,215.72 L197.06,215.31 L198.52,214.9 L199.97,214.49 L201.43,214.07 L202.88,213.66 L204.33,213.24 L205.78,212.83 L207.23,212.41 L208.68,211.99 L210.12,211.56 L211.57,211.14 L213.02,210.71 L214.46,210.29 L215.9,209.86 L217.34,209.42 L218.78,208.99 L220.22,208.55 L221.66,208.11 L223.09,207.67 L224.53,207.23 L225.96,206.78 L227.39,206.34 L228.82,205.88 L230.25,205.43 L231.68,204.97 L233.1,204.51 L234.53,204.05 L235.95,203.59 L237.37,203.12 L238.79,202.65 L240.21,202.17 L241.62,201.69 L243.04,201.21 L244.45,200.73 L245.86,200.24 L247.27,199.75 L248.68,199.25 L250.09,198.75 L251.49,198.25 L252.9,197.74 L254.3,197.23 L255.7,196.72 L257.09,196.2 L258.49,195.68 L259.88,195.15 L261.28,194.62 L262.67,194.08 L264.06,193.54 L265.44,193 L266.83,192.45 L268.21,191.89 L269.59,191.34 L270.97,190.77 L272.35,190.21 L273.72,189.63 L275.1,189.05 L276.47,188.47 L277.84,187.88 L279.21,187.29 L280.57,186.69 L281.93,186.09 L283.29,185.48 L284.65,184.86 L286.01,184.24 L287.36,183.62 L288.72,182.99 L290.07,182.35 L291.41,181.71 L292.76,181.06 L294.1,180.4 L295.44,179.74 L296.78,179.08 L298.12,178.4 L299.45,177.72 L300.79,177.04 L302.12,176.34 L303.44,175.65 L304.77,174.94 L306.09,174.23 L307.41,173.51 L308.73,172.79 L310.04,172.05 L311.35,171.32 L312.67,170.57 L313.97,169.82 L315.28,169.07 L316.59,168.31 L317.89,167.55 L319.19,166.78 L320.49,166 L321.79,165.23 L323.09,164.45 L324.38,163.66 L325.68,162.88 L326.97,162.09 L328.26,161.29 L329.55,160.5 L330.84,159.7 L332.13,158.9 L333.42,158.1 L334.71,157.3 L336,156.49 L337.29,155.69 L338.58,154.89 L339.87,154.08 L341.15,153.28 L342.44,152.47 L343.73,151.67 L345.02,150.86 L346.31,150.06 L347.6,149.26 L348.88,148.46 L350.18,147.66 L351.47,146.87 L352.76,146.07 L354.05,145.28 L355.34,144.5 L356.64,143.71 L357.93,142.93 L359.23,142.15 L360.53,141.38 L361.83,140.61 L363.13,139.85 L364.43,139.09 L365.74,138.33 L367.05,137.59 L368.36,136.84 L369.67,136.1 L370.98,135.37 L372.29,134.65 L373.61,133.93 L374.93,133.22 L376.25,132.51 L377.58,131.81 L378.91,131.13 L380.24,130.44 L381.57,129.77 L382.91,129.11 L384.25,128.45 L385.59,127.8 L386.94,127.17 L388.29,126.54 L389.64,125.92 L390.99,125.31 L392.35,124.71 L393.72,124.13 L395.09,123.55 L396.46,122.99 L397.83,122.43 L399.21,121.89 L400.6,121.36 L401.99,120.84 L403.38,120.34 L404.78,119.85 L406.18,119.37 L407.58,118.9 L408.99,118.44 L410.41,118 L411.83,117.57 L413.25,117.15 L414.68,116.74 L416.11,116.34 L417.54,115.96 L418.98,115.58 L420.42,115.21 L421.87,114.86 L423.31,114.51 L424.76,114.17 L426.22,113.84 L427.67,113.52 L429.13,113.21 L430.59,112.91 L432.06,112.61 L433.52,112.32 L434.99,112.04 L436.46,111.77 L437.94,111.5 L439.41,111.24 L440.89,110.99 L442.37,110.74 L443.85,110.49 L445.33,110.25 L446.81,110.02 L448.3,109.79 L449.78,109.57 L451.27,109.35 L452.75,109.13 L454.24,108.92 L455.73,108.71 L457.22,108.51 L458.71,108.31 L460.2,108.1 L461.69,107.91 L463.18,107.71 L464.67,107.52 L466.16,107.33 L467.65,107.14 L469.14,106.95 L470.64,106.76 L472.13,106.58 L473.62,106.4 L475.11,106.22 L476.6,106.04 L478.1,105.87 L479.59,105.69 L481.08,105.52 L482.57,105.35 L484.07,105.18 L485.56,105.01 L487.05,104.85 L488.55,104.68 L490.04,104.52 L491.53,104.36 L493.03,104.2 L494.52,104.04 L496.02,103.89 L497.51,103.73 L499,103.58 L500.5,103.42 L501.99,103.27 L503.49,103.12 L504.98,102.97 L506.48,102.83 L507.97,102.68 L509.47,102.53 L510.96,102.39 L512.46,102.25 L513.95,102.1 L515.45,101.96 L516.94,101.82 L518.44,101.68 L519.93,101.54 L521.43,101.41 L522.93,101.27 L524.42,101.13 L525.92,101 L527.41,100.86 L528.91,100.73 L530.4,100.59 L531.9,100.46 L533.4,100.33 L534.89,100.2 L536.39,100.06 L537.88,99.93 L539.38,99.8 L540.88,99.67 L542.37,99.54 L543.87,99.41 L545.36,99.28 L546.86,99.15 L548.35,99.02 L549.85,98.89 L551.35,98.76 L552.84,98.63 L554.34,98.51 L555.83,98.38 L557.33,98.25 L558.82,98.12 L560.32,97.99 L561.82,97.87 L563.31,97.74 L564.81,97.61 L566.3,97.49 L567.8,97.36 L569.29,97.23 L570.79,97.11 L572.29,96.98 L573.78,96.86 L575.28,96.73 L576.77,96.61 L578.27,96.48 L579.76,96.36 L581.26,96.23 L582.76,96.11 L584.25,95.99 L585.75,95.86 L587.24,95.74 L588.74,95.62 L590.23,95.49 L591.73,95.37 L593.23,95.25 L594.72,95.13 L596.22,95.01 L597.71,94.89 L599.21,94.77 L600.71,94.64 L602.2,94.52 L603.7,94.4 L605.19,94.28 L606.69,94.17 L608.18,94.05 L609.68,93.93 L611.18,93.81 L612.67,93.69 L614.17,93.57 L615.67,93.46 L617.16,93.34 L618.66,93.22 L620.15,93.11 L621.65,92.99 L623.15,92.87 L624.64,92.76 L626.14,92.64 L627.64,92.53 L629.13,92.41 L630.63,92.3 L632.13,92.19 L633.62,92.07 L635.12,91.96 L636.62,91.85 L638.11,91.73 L639.61,91.62 L641.11,91.51 L642.6,91.4 L644.1,91.29 L645.6,91.18 L647.09,91.07 L648.59,90.96 L650.09,90.85 L651.59,90.74 L653.08,90.63 L654.58,90.52 L656.08,90.41 L657.57,90.3 L659.07,90.2 L660.57,90.09 L662.07,89.98 L663.57,89.88 L665.06,89.77 L666.56,89.67 L668.06,89.56 L669.56,89.46 L671.06,89.35 L672.55,89.25 L674.05,89.15 L675.55,89.04 L677.05,88.94 L678.55,88.84 L680.05,88.74 L681.54,88.63 L683.04,88.53 L684.54,88.43 L686.04,88.33 L687.54,88.23 L689.04,88.13 L690.54,88.03 L692.04,87.94 L693.54,87.84 L695.03,87.74 L696.53,87.64 L698.03,87.55 L699.53,87.45 L701.03,87.36 L702.53,87.26 L704.03,87.17 L705.53,87.07 L707.03,86.98 L708.53,86.88 L710.03,86.79 L711.53,86.7 L713.03,86.61 L714.54,86.51 L716.04,86.42 L717.54,86.33 L719.04,86.24 L720.54,86.15 L722.04,86.06 L723.54,85.97 L725.04,85.88 L726.54,85.8 L728.05,85.71 L729.55,85.62 L731.05,85.54 L732.55,85.45 L734.05,85.36 L735.55,85.28 L737.06,85.19 L738.56,85.11 L740.06,85.03 L741.56,84.94 L743.07,84.86 L744.57,84.78 L746.07,84.7 L747.58,84.62 L749.08,84.54 L750.58,84.46 L752.09,84.38 L753.59,84.3 L755.09,84.22 L756.6,84.14 L758.1,84.07 L759.61,83.99 L761.11,83.91 L762.61,83.84 L764.12,83.76 L765.62,83.69 L767.13,83.61 L768.63,83.54 L770.14,83.47 L771.64,83.39 L773.15,83.32 L774.66,83.25 L776.16,83.18 L777.67,83.11 L779.17,83.04 L780.68,82.97 L782.19,82.9 L783.69,82.83 L785.2,82.76 L786.7,82.69 L788.21,82.62 L789.72,82.55 L791.22,82.48 L792.73,82.41 L794.24,82.34 L795.74,82.27 L797.25,82.2 L798.75,82.13 L800.26,82.06 L801.77,81.99 L803.27,81.92 L804.78,81.84 L806.28,81.77 L807.79,81.69 L809.3,81.62 L810.8,81.54 L812.31,81.46 L813.81,81.38 L815.32,81.3 L816.82,81.22 L818.33,81.14 L819.83,81.06 L821.34,80.97 L822.84,80.88 L824.34,80.8 L825.85,80.71 L827.35,80.62 L828.85,80.52 L830.36,80.43 L831.86,80.33 L833.36,80.23 L834.86,80.13 L836.36,80.03 L837.87,79.93 L839.37,79.82 L840.87,79.71 L842.37,79.6 L843.87,79.49 L845.37,79.37 L846.86,79.25 L848.36,79.13 L849.86,79.01 L851.36,78.88 L852.86,78.76 L854.35,78.63 L855.85,78.49 L857.34,78.36 L858.84,78.22 L860.33,78.07 L861.83,77.93 L863.32,77.78 L864.81,77.63 L866.31,77.47 L867.8,77.31 L869.29,77.15 L870.78,76.99 L872.27,76.82 L873.76,76.65 L875.25,76.47 L876.74,76.29 L878.22,76.11 L879.71,75.92 L881.2,75.73 L882.68,75.54 L884.17,75.34 L885.65,75.14 L887.14,74.93 L888.62,74.72 L890.1,74.5 L891.58,74.28 L893.06,74.06 L894.54,73.83 L896.02,73.6 L897.5,73.36 L898.98,73.12 L900.45,72.87 L901.93,72.62 L903.4,72.37 L904.88,72.11 L906.35,71.84 L907.82,71.57 L909.29,71.3 L910.76,71.02 L912.23,70.73 L913.7,70.44 L915.17,70.14 L916.63,69.84 L918.1,69.53 L919.56,69.22 L921.03,68.9 L922.49,68.58 L923.95,68.25 L925.41,67.92 L926.87,67.58 L928.33,67.23 L929.79,66.88 L931.24,66.52 L932.7,66.16 L934.15,65.79 L935.6,65.41 L937.06,65.03 L938.51,64.64 L939.96,64.24 L941.41,63.84 L942.85,63.43 L944.3,63.02 L945.74,62.6 L947.19,62.17 L948.63,61.74 L950.07,61.3 L951.51,60.85 L952.95,60.39 L954.39,59.93 L955.82,59.46 L957.26,58.99 L958.69,58.5 L960.13,58.01 L961.56,57.52 L962.99,57.01 L964.41,56.5 L965.83,55.97 L967.24,55.43 L968.64,54.87 L970.03,54.3 L971.41,53.71 L972.77,53.09 L974.1,52.45 L975.42,51.78 L976.72,51.09 L977.99,50.36 L979.23,49.6 L980.44,48.81 L981.62,47.98 L982.76,47.11 L983.87,46.19 L984.94,45.24 L985.97,44.24 L986.96,43.19 L987.9,42.1 L988.8,40.95 L989.64,39.74 L990.44,38.49 L991.18,37.17 L991.87,35.8 L992.52,34.39 L993.13,32.95 L993.71,31.47 L994.27,29.98 L994.81,28.47 L995.34,26.97 L995.86,25.46 L996.38,23.98 L996.91,22.51 L997.46,21.07 L998.02,19.68 L998.61,18.33 L999.23,17.03 L999.89,15.8" stroke="#2a0505" stroke-width="0.95" fill="none" stroke-dasharray="2 3.5"/>
<path d="M58.9,344.4 L58.92,342.89 L58.94,341.38 L58.96,339.87 L58.97,338.37 L58.98,336.87 L58.99,335.37 L59,333.88 L59.01,332.39 L59.02,330.89 L59.03,329.41 L59.04,327.92 L59.06,326.43 L59.08,324.94 L59.1,323.45 L59.13,321.96 L59.16,320.48 L59.2,318.98 L59.24,317.49 L59.29,316 L59.35,314.5 L59.41,313 L59.49,311.5 L59.57,309.99 L59.67,308.48 L59.77,306.96 L59.89,305.44 L60.01,303.92 L60.15,302.39 L60.31,300.85 L60.47,299.31 L60.65,297.76 L60.85,296.21 L61.07,294.66 L61.32,293.11 L61.59,291.57 L61.89,290.04 L62.23,288.53 L62.6,287.03 L63.01,285.55 L63.47,284.09 L63.97,282.67 L64.52,281.27 L65.12,279.91 L65.78,278.58 L66.5,277.29 L67.27,276.04 L68.1,274.83 L68.97,273.65 L69.88,272.5 L70.84,271.38 L71.83,270.3 L72.86,269.24 L73.93,268.2 L75.02,267.19 L76.14,266.21 L77.28,265.24 L78.45,264.29 L79.62,263.36 L80.82,262.45 L82.02,261.55 L83.23,260.67 L84.45,259.8 L85.68,258.94 L86.91,258.09 L88.15,257.25 L89.39,256.43 L90.64,255.61 L91.9,254.81 L93.16,254.02 L94.43,253.24 L95.71,252.48 L96.99,251.72 L98.27,250.97 L99.57,250.23 L100.86,249.51 L102.17,248.79 L103.48,248.09 L104.79,247.39 L106.11,246.7 L107.43,246.03 L108.76,245.36 L110.1,244.7 L111.44,244.05 L112.78,243.41 L114.13,242.78 L115.48,242.15 L116.84,241.54 L118.2,240.93 L119.57,240.33 L120.94,239.74 L122.31,239.15 L123.69,238.58 L125.07,238.01 L126.46,237.45 L127.85,236.89 L129.24,236.34 L130.64,235.8 L132.04,235.27 L133.44,234.74 L134.85,234.22 L136.26,233.7 L137.67,233.19 L139.09,232.68 L140.51,232.19 L141.93,231.69 L143.35,231.2 L144.78,230.72 L146.21,230.24 L147.64,229.77 L149.07,229.3 L150.51,228.83 L151.95,228.37 L153.39,227.92 L154.83,227.46 L156.27,227.02 L157.72,226.57 L159.17,226.13 L160.62,225.69 L162.07,225.25 L163.52,224.82 L164.97,224.39 L166.42,223.96 L167.88,223.54 L169.34,223.12 L170.79,222.7 L172.25,222.28 L173.71,221.86 L175.17,221.45 L176.63,221.03 L178.09,220.62 L179.55,220.21 L181.01,219.8 L182.47,219.39 L183.93,218.98 L185.39,218.58 L186.85,218.17 L188.31,217.76 L189.77,217.35 L191.23,216.95 L192.69,216.54 L194.15,216.13 L195.6,215.72 L197.06,215.31 L198.52,214.9 L199.97,214.49 L201.43,214.07 L202.88,213.66 L204.33,213.24 L205.78,212.83 L207.23,212.41 L208.68,211.99 L210.12,211.56 L211.57,211.14 L213.02,210.71 L214.46,210.29 L215.9,209.86 L217.34,209.42 L218.78,208.99 L220.22,208.55 L221.66,208.11 L223.09,207.67 L224.53,207.23 L225.96,206.78 L227.39,206.34 L228.82,205.88 L230.25,205.43 L231.68,204.97 L233.1,204.51 L234.53,204.05 L235.95,203.59 L237.37,203.12 L238.79,202.65 L240.21,202.17 L241.62,201.69 L243.04,201.21 L244.45,200.73 L245.86,200.24 L247.27,199.75 L248.68,199.25 L250.09,198.75 L251.49,198.25 L252.9,197.74 L254.3,197.23 L255.7,196.72 L257.09,196.2 L258.49,195.68 L259.88,195.15 L261.28,194.62 L262.67,194.08 L264.06,193.54 L265.44,193 L266.83,192.45 L268.21,191.89 L269.59,191.34 L270.97,190.77 L272.35,190.21 L273.72,189.63 L275.1,189.05 L276.47,188.47 L277.84,187.88 L279.21,187.29 L280.57,186.69 L281.93,186.09 L283.29,185.48 L284.65,184.86 L286.01,184.24 L287.36,183.62 L288.72,182.99 L290.07,182.35 L291.41,181.71 L292.76,181.06 L294.1,180.4 L295.44,179.74 L296.78,179.08 L298.12,178.4 L299.45,177.72 L300.79,177.04 L302.12,176.34 L303.44,175.65 L304.77,174.94 L306.09,174.23 L307.41,173.51 L308.73,172.79 L310.04,172.05 L311.35,171.32 L312.67,170.57 L313.97,169.82 L315.28,169.07 L316.59,168.31 L317.89,167.55 L319.19,166.78 L320.49,166 L321.79,165.23 L323.09,164.45 L324.38,163.66 L325.68,162.88 L326.97,162.09 L328.26,161.29 L329.55,160.5 L330.84,159.7 L332.13,158.9 L333.42,158.1 L334.71,157.3 L336,156.49 L337.29,155.69 L338.58,154.89 L339.87,154.08 L341.15,153.28 L342.44,152.47 L343.73,151.67 L345.02,150.86 L346.31,150.06 L347.6,149.26 L348.88,148.46 L350.18,147.66 L351.47,146.87 L352.76,146.07 L354.05,145.28 L355.34,144.5 L356.64,143.71 L357.93,142.93 L359.23,142.15 L360.53,141.38 L361.83,140.61 L363.13,139.85 L364.43,139.09 L365.74,138.33 L367.05,137.59 L368.36,136.84 L369.67,136.1 L370.98,135.37 L372.29,134.65 L373.61,133.93 L374.93,133.22 L376.25,132.51 L377.58,131.81 L378.91,131.13 L380.24,130.44 L381.57,129.77 L382.91,129.11 L384.25,128.45 L385.59,127.8 L386.94,127.17 L388.29,126.54 L389.64,125.92 L390.99,125.31 L392.35,124.71 L393.72,124.13 L395.09,123.55 L396.46,122.99 L397.83,122.43 L399.21,121.89 L400.6,121.36 L401.99,120.84 L403.38,120.33 L404.78,119.83 L406.18,119.33 L407.58,118.83 L408.99,118.33 L410.41,117.82 L411.83,117.3 L413.25,116.78 L414.68,116.26 L416.11,115.73 L417.54,115.19 L418.98,114.66 L420.42,114.13 L421.87,113.62 L423.31,113.12 L424.76,112.64 L427.42,111.85 L428.85,111.44 L430.28,111.04 L431.72,110.65 L433.15,110.27 L434.59,109.89 L436.03,109.52 L437.47,109.16 L438.92,108.81 L440.36,108.46 L441.81,108.12 L443.27,107.79 L444.72,107.47 L446.17,107.15 L447.63,106.84 L449.09,106.53 L450.55,106.24 L452.02,105.94 L453.48,105.66 L454.95,105.38 L456.42,105.11 L457.89,104.84 L459.37,104.58 L460.84,104.32 L462.32,104.07 L463.79,103.83 L465.27,103.59 L466.75,103.36 L468.24,103.13 L469.72,102.91 L471.21,102.69 L472.69,102.48 L474.18,102.27 L475.67,102.06 L477.16,101.87 L478.65,101.67 L480.15,101.48 L481.64,101.3 L483.14,101.11 L484.63,100.94 L486.13,100.76 L487.63,100.6 L489.13,100.43 L490.63,100.27 L492.13,100.11 L493.63,99.96 L495.14,99.8 L496.64,99.66 L498.15,99.51 L499.65,99.37 L501.16,99.23 L502.66,99.09 L504.17,98.96 L505.68,98.83 L507.19,98.7 L508.7,98.58 L510.2,98.45 L511.71,98.33 L513.22,98.21 L514.73,98.1 L516.24,97.98 L517.75,97.87 L519.27,97.75 L520.78,97.64 L522.29,97.54 L523.8,97.43 L525.31,97.32 L526.82,97.22 L528.33,97.11 L529.84,97.01 L531.35,96.91 L532.86,96.81 L534.37,96.71 L535.88,96.61 L537.39,96.51 L538.9,96.41 L540.41,96.31 L541.92,96.21 L543.43,96.11 L544.94,96.02 L546.45,95.92 L547.95,95.82 L549.46,95.73 L550.97,95.63 L552.48,95.53 L553.98,95.44 L555.49,95.35 L557,95.25 L558.5,95.16 L560.01,95.06 L561.51,94.97 L563.02,94.88 L564.52,94.79 L566.03,94.69 L567.53,94.6 L569.04,94.51 L570.54,94.42 L572.05,94.33 L573.55,94.24 L575.05,94.15 L576.56,94.06 L578.06,93.97 L579.56,93.89 L581.07,93.8 L582.57,93.71 L584.07,93.62 L585.57,93.53 L587.08,93.45 L588.58,93.36 L590.08,93.27 L591.58,93.19 L593.08,93.1 L594.58,93.02 L596.09,92.93 L597.59,92.85 L599.09,92.76 L600.59,92.68 L602.09,92.59 L603.59,92.51 L605.09,92.43 L606.59,92.34 L608.09,92.26 L609.59,92.18 L611.09,92.09 L612.59,92.01 L614.08,91.93 L615.58,91.85 L617.08,91.77 L618.58,91.68 L620.08,91.6 L621.58,91.52 L623.08,91.44 L624.57,91.36 L626.07,91.28 L627.57,91.2 L629.07,91.12 L630.57,91.04 L632.06,90.96 L633.56,90.88 L635.06,90.8 L636.56,90.72 L638.05,90.64 L639.55,90.56 L641.05,90.48 L642.54,90.4 L644.04,90.33 L645.54,90.25 L647.03,90.17 L648.53,90.09 L650.03,90.01 L651.52,89.93 L653.02,89.86 L654.51,89.78 L656.01,89.7 L657.51,89.62 L659,89.55 L660.5,89.47 L661.99,89.39 L663.49,89.31 L664.98,89.24 L666.48,89.16 L667.98,89.08 L669.47,89 L670.97,88.93 L672.46,88.85 L673.96,88.77 L675.45,88.7 L676.95,88.62 L678.44,88.54 L679.94,88.47 L681.43,88.39 L682.93,88.31 L684.42,88.23 L685.92,88.16 L687.41,88.08 L688.91,88 L690.4,87.93 L691.9,87.85 L693.39,87.77 L694.89,87.7 L696.38,87.62 L697.88,87.54 L699.37,87.46 L700.87,87.39 L702.36,87.31 L703.86,87.23 L705.35,87.16 L706.85,87.08 L708.34,87 L709.84,86.92 L711.33,86.85 L712.83,86.77 L714.32,86.69 L715.82,86.61 L717.31,86.53 L718.81,86.46 L720.3,86.38 L721.8,86.3 L723.29,86.22 L724.79,86.14 L726.28,86.06 L727.78,85.99 L729.27,85.91 L730.77,85.83 L732.26,85.75 L733.76,85.67 L735.25,85.59 L736.75,85.51 L738.25,85.43 L739.74,85.35 L741.24,85.27 L742.73,85.19 L744.23,85.11 L745.72,85.03 L747.22,84.95 L748.72,84.87 L750.21,84.78 L751.71,84.7 L753.21,84.62 L754.7,84.54 L756.2,84.46 L757.7,84.37 L759.19,84.29 L760.69,84.21 L762.19,84.13 L763.68,84.04 L765.18,83.96 L766.68,83.87 L768.18,83.79 L769.67,83.71 L771.17,83.62 L772.67,83.54 L774.17,83.45 L775.66,83.37 L777.16,83.28 L778.66,83.19 L780.16,83.11 L781.66,83.02 L783.16,82.93 L784.65,82.85 L786.15,82.76 L787.65,82.67 L789.15,82.58 L790.65,82.49 L792.15,82.41 L793.65,82.32 L795.15,82.23 L796.65,82.14 L798.15,82.05 L799.65,81.96 L801.15,81.86 L802.65,81.77 L804.15,81.68 L805.65,81.59 L807.16,81.5 L808.66,81.4 L810.16,81.31 L811.66,81.22 L813.16,81.12 L814.66,81.03 L816.17,80.93 L817.67,80.84 L819.17,80.74 L820.67,80.65 L822.18,80.55 L823.68,80.45 L825.18,80.35 L826.69,80.26 L828.19,80.16 L829.7,80.06 L831.2,79.96 L832.7,79.85 L834.21,79.75 L835.71,79.65 L837.22,79.54 L838.72,79.43 L840.22,79.32 L841.73,79.21 L843.23,79.1 L844.74,78.98 L846.24,78.87 L847.74,78.75 L849.25,78.63 L850.75,78.51 L852.25,78.38 L853.76,78.25 L855.26,78.12 L856.76,77.99 L858.26,77.85 L859.76,77.71 L861.27,77.57 L862.77,77.43 L864.27,77.28 L865.77,77.13 L867.27,76.97 L868.77,76.82 L870.27,76.66 L871.77,76.49 L873.26,76.32 L874.76,76.15 L876.26,75.97 L877.75,75.79 L879.25,75.61 L880.75,75.42 L882.24,75.22 L883.74,75.03 L885.23,74.82 L886.72,74.62 L888.21,74.4 L889.71,74.19 L891.2,73.97 L892.69,73.74 L894.18,73.51 L895.67,73.27 L897.15,73.03 L898.64,72.78 L900.13,72.53 L901.61,72.27 L903.1,72.01 L904.58,71.74 L906.06,71.46 L907.54,71.18 L909.02,70.89 L910.5,70.6 L911.98,70.3 L913.46,69.99 L914.94,69.67 L916.41,69.35 L917.89,69.03 L919.36,68.69 L920.83,68.35 L922.3,68.01 L923.77,67.65 L925.24,67.29 L926.71,66.92 L928.18,66.54 L929.64,66.16 L931.1,65.76 L932.55,65.35 L934,64.93 L935.45,64.5 L936.88,64.05 L938.32,63.59 L939.74,63.12 L941.15,62.62 L942.56,62.11 L943.96,61.59 L945.34,61.04 L946.72,60.48 L948.08,59.89 L949.44,59.29 L950.77,58.66 L952.1,58.01 L953.41,57.33 L954.71,56.63 L955.99,55.91 L957.25,55.16 L958.5,54.38 L959.73,53.57 L960.94,52.74 L962.13,51.87 L963.3,50.98 L964.45,50.05 L965.58,49.09 L966.69,48.1 L967.78,47.08 L968.85,46.03 L969.9,44.95 L970.94,43.85 L971.96,42.74 L972.98,41.6 L973.98,40.45 L974.98,39.29 L975.97,38.12 L976.95,36.94 L977.94,35.76 L978.92,34.58 L979.9,33.4 L980.89,32.23 L981.88,31.07 L982.88,29.91 L983.89,28.77 L984.9,27.65 L985.93,26.54 L986.98,25.46 L988.04,24.4 L989.11,23.37 L990.21,22.37 L991.33,21.4 L992.47,20.47 L993.63,19.58 L994.82,18.73 L996.04,17.92 L997.29,17.16 L998.58,16.45 L999.89,15.8" stroke="#2a0505" stroke-width="0.95" fill="none" stroke-dasharray="4.5 1.6"/>
</g>
<g stroke="#3a0808" stroke-width="0.9" fill="none"><circle cx="136.2" cy="234.3" r="2.3"/><circle cx="213.3" cy="210.2" r="2.3"/><circle cx="226" cy="206" r="2.3"/><circle cx="247.6" cy="199" r="2.3"/><circle cx="293.3" cy="181.9" r="2.3"/><circle cx="306" cy="173.6" r="2.3"/><circle cx="347.9" cy="148.2" r="2.3"/><circle cx="352" cy="146" r="2.3"/><circle cx="392.4" cy="124.6" r="2.3"/><circle cx="437.9" cy="109.6" r="2.3"/><circle cx="488.3" cy="99.6" r="2.3"/><circle cx="535.2" cy="96.5" r="2.3"/><circle cx="583.4" cy="93.8" r="2.3"/><circle cx="630.2" cy="91.6" r="2.3"/><circle cx="678.1" cy="88.4" r="2.3"/><circle cx="725" cy="86.1" r="2.3"/><circle cx="764.7" cy="83.4" r="2.3"/><circle cx="868" cy="76.7" r="2.3"/><circle cx="924.5" cy="67.5" r="2.3"/><circle cx="939.8" cy="63.2" r="2.3"/><circle cx="954.4" cy="57" r="2.3"/><circle cx="960.2" cy="53" r="2.3"/><circle cx="966" cy="48.7" r="2.3"/><circle cx="971.7" cy="43.2" r="2.3"/><circle cx="976.1" cy="38.2" r="2.3"/><circle cx="980.4" cy="33.1" r="2.3"/><circle cx="984.7" cy="28.1" r="2.3"/><circle cx="990.5" cy="21.6" r="2.3"/><circle cx="994.8" cy="18" r="2.3"/><path d="M56.5,320H61.5M59,317.5V322.5"/><path d="M57.4,312.8H62.4M59.9,310.3V315.3"/><path d="M57.4,305.2H62.4M59.9,302.7V307.7"/><path d="M58.7,298.4H63.7M61.2,295.9V300.9"/><path d="M60.1,288.8H65.1M62.6,286.3V291.3"/><path d="M63.4,278.9H68.4M65.9,276.4V281.4"/><path d="M70.1,269.1H75.1M72.6,266.6V271.6"/><path d="M79.1,260.5H84.1M81.6,258V263"/><path d="M94.4,250.5H99.4M96.9,248V253"/><path d="M133.2,234.3H138.2M135.7,231.8V236.8"/><path d="M196.9,214.8H201.9M199.4,212.3V217.3"/><path d="M279.4,187.6H284.4M281.9,185.1V190.1"/><path d="M440.5,112H445.5M443,109.5V114.5"/><path d="M478.1,105.6H483.1M480.6,103.1V108.1"/><path d="M542.2,99.4H547.2M544.7,96.9V101.9"/><path d="M593.3,95.5H598.3M595.8,93V98"/><path d="M968.8,54.8H973.8M971.3,52.3V57.3"/></g>
<path d="M124.42,407.9V765.3 M171.05,407.9V765.3 M217.68,407.9V765.3 M264.3,407.9V765.3 M310.93,407.9V765.3 M357.55,407.9V765.3 M404.18,407.9V765.3 M450.8,407.9V765.3 M497.43,407.9V765.3 M544.05,407.9V765.3 M590.67,407.9V765.3 M637.3,407.9V765.3 M683.92,407.9V765.3 M730.55,407.9V765.3 M777.17,407.9V765.3 M823.8,407.9V765.3 M870.43,407.9V765.3 M917.05,407.9V765.3 M963.68,407.9V765.3 M1010.3,407.9V765.3" stroke="#000" stroke-opacity="0.64" stroke-width="2" fill="none"/>
<path d="M70.2,732.51H1010.3 M70.2,678.42H1010.3 M70.2,624.33H1010.3 M70.2,570.24H1010.3 M70.2,516.15H1010.3 M70.2,462.06H1010.3 M70.2,407.97H1010.3" stroke="#000" stroke-opacity="0.7" stroke-width="1.9" fill="none"/>
<path d="M70.3,407.9H1010.3V765.3" stroke="#3a3a3a" stroke-width="1.8" fill="none"/>
<path d="M77.8,407.9V765.3 M77.8,765.3H1010.3 M74.8,764.96H77.8 M74.8,754.15H77.8 M74.8,743.33H77.8 M74.8,721.69H77.8 M74.8,710.87H77.8 M74.8,700.06H77.8 M74.8,689.24H77.8 M74.8,667.6H77.8 M74.8,656.78H77.8 M74.8,645.97H77.8 M74.8,635.15H77.8 M74.8,613.51H77.8 M74.8,602.69H77.8 M74.8,591.88H77.8 M74.8,581.06H77.8 M74.8,559.42H77.8 M74.8,548.6H77.8 M74.8,537.79H77.8 M74.8,526.97H77.8 M74.8,505.33H77.8 M74.8,494.51H77.8 M74.8,483.7H77.8 M74.8,472.88H77.8 M74.8,451.24H77.8 M74.8,440.42H77.8 M74.8,429.61H77.8 M74.8,418.79H77.8 M77.8,765.3V769.3 M87.12,765.3V767.8 M96.45,765.3V767.8 M105.77,765.3V767.8 M115.1,765.3V767.8 M124.42,765.3V769.3 M133.75,765.3V767.8 M143.07,765.3V767.8 M152.4,765.3V767.8 M161.72,765.3V767.8 M171.05,765.3V769.3 M180.38,765.3V767.8 M189.7,765.3V767.8 M199.03,765.3V767.8 M208.35,765.3V767.8 M217.68,765.3V769.3 M227,765.3V767.8 M236.32,765.3V767.8 M245.65,765.3V767.8 M254.98,765.3V767.8 M264.3,765.3V769.3 M273.62,765.3V767.8 M282.95,765.3V767.8 M292.28,765.3V767.8 M301.6,765.3V767.8 M310.93,765.3V769.3 M320.25,765.3V767.8 M329.57,765.3V767.8 M338.9,765.3V767.8 M348.22,765.3V767.8 M357.55,765.3V769.3 M366.88,765.3V767.8 M376.2,765.3V767.8 M385.53,765.3V767.8 M394.85,765.3V767.8 M404.18,765.3V769.3 M413.5,765.3V767.8 M422.82,765.3V767.8 M432.15,765.3V767.8 M441.48,765.3V767.8 M450.8,765.3V769.3 M460.12,765.3V767.8 M469.45,765.3V767.8 M478.77,765.3V767.8 M488.1,765.3V767.8 M497.43,765.3V769.3 M506.75,765.3V767.8 M516.07,765.3V767.8 M525.4,765.3V767.8 M534.73,765.3V767.8 M544.05,765.3V769.3 M553.38,765.3V767.8 M562.7,765.3V767.8 M572.02,765.3V767.8 M581.35,765.3V767.8 M590.67,765.3V769.3 M600,765.3V767.8 M609.32,765.3V767.8 M618.65,765.3V767.8 M627.97,765.3V767.8 M637.3,765.3V769.3 M646.62,765.3V767.8 M655.95,765.3V767.8 M665.27,765.3V767.8 M674.6,765.3V767.8 M683.92,765.3V769.3 M693.25,765.3V767.8 M702.58,765.3V767.8 M711.9,765.3V767.8 M721.22,765.3V767.8 M730.55,765.3V769.3 M739.87,765.3V767.8 M749.2,765.3V767.8 M758.52,765.3V767.8 M767.85,765.3V767.8 M777.17,765.3V769.3 M786.5,765.3V767.8 M795.82,765.3V767.8 M805.15,765.3V767.8 M814.48,765.3V767.8 M823.8,765.3V769.3 M833.12,765.3V767.8 M842.45,765.3V767.8 M851.77,765.3V767.8 M861.1,765.3V767.8 M870.42,765.3V769.3 M879.75,765.3V767.8 M889.07,765.3V767.8 M898.4,765.3V767.8 M907.73,765.3V767.8 M917.05,765.3V769.3 M926.38,765.3V767.8 M935.7,765.3V767.8 M945.02,765.3V767.8 M954.35,765.3V767.8 M963.67,765.3V769.3 M973,765.3V767.8 M982.32,765.3V767.8 M991.65,765.3V767.8 M1000.97,765.3V767.8 M1010.3,765.3V769.3" stroke="#2a2a2a" stroke-width="1.7" fill="none"/>
<g font-family="DejaVu Sans, Liberation Sans, sans-serif" font-weight="bold" font-size="8.4" fill="#1e1e1e"><text x="77.8" y="776.8" text-anchor="middle" textLength="18.3" lengthAdjust="spacingAndGlyphs">0.00</text><text x="124.42" y="776.8" text-anchor="middle" textLength="18.3" lengthAdjust="spacingAndGlyphs">0.05</text><text x="171.05" y="776.8" text-anchor="middle" textLength="18.3" lengthAdjust="spacingAndGlyphs">0.10</text><text x="217.68" y="776.8" text-anchor="middle" textLength="18.3" lengthAdjust="spacingAndGlyphs">0.15</text><text x="264.3" y="776.8" text-anchor="middle" textLength="18.3" lengthAdjust="spacingAndGlyphs">0.20</text><text x="310.93" y="776.8" text-anchor="middle" textLength="18.3" lengthAdjust="spacingAndGlyphs">0.25</text><text x="357.55" y="776.8" text-anchor="middle" textLength="18.3" lengthAdjust="spacingAndGlyphs">0.30</text><text x="404.18" y="776.8" text-anchor="middle" textLength="18.3" lengthAdjust="spacingAndGlyphs">0.35</text><text x="450.8" y="776.8" text-anchor="middle" textLength="18.3" lengthAdjust="spacingAndGlyphs">0.40</text><text x="497.43" y="776.8" text-anchor="middle" textLength="18.3" lengthAdjust="spacingAndGlyphs">0.45</text><text x="544.05" y="776.8" text-anchor="middle" textLength="18.3" lengthAdjust="spacingAndGlyphs">0.50</text><text x="590.67" y="776.8" text-anchor="middle" textLength="18.3" lengthAdjust="spacingAndGlyphs">0.55</text><text x="637.3" y="776.8" text-anchor="middle" textLength="18.3" lengthAdjust="spacingAndGlyphs">0.60</text><text x="683.92" y="776.8" text-anchor="middle" textLength="18.3" lengthAdjust="spacingAndGlyphs">0.65</text><text x="730.55" y="776.8" text-anchor="middle" textLength="18.3" lengthAdjust="spacingAndGlyphs">0.70</text><text x="777.17" y="776.8" text-anchor="middle" textLength="18.3" lengthAdjust="spacingAndGlyphs">0.75</text><text x="823.8" y="776.8" text-anchor="middle" textLength="18.3" lengthAdjust="spacingAndGlyphs">0.80</text><text x="870.43" y="776.8" text-anchor="middle" textLength="18.3" lengthAdjust="spacingAndGlyphs">0.85</text><text x="917.05" y="776.8" text-anchor="middle" textLength="18.3" lengthAdjust="spacingAndGlyphs">0.90</text><text x="963.68" y="776.8" text-anchor="middle" textLength="18.3" lengthAdjust="spacingAndGlyphs">0.95</text><text x="1010.3" y="776.8" text-anchor="middle" textLength="18.3" lengthAdjust="spacingAndGlyphs">1.00</text><text x="70.3" y="735.61" text-anchor="end" textLength="10.4" lengthAdjust="spacingAndGlyphs">50</text><text x="70.3" y="681.52" text-anchor="end" textLength="15.4" lengthAdjust="spacingAndGlyphs">100</text><text x="70.3" y="627.43" text-anchor="end" textLength="15.4" lengthAdjust="spacingAndGlyphs">150</text><text x="70.3" y="573.34" text-anchor="end" textLength="15.4" lengthAdjust="spacingAndGlyphs">200</text><text x="70.3" y="519.25" text-anchor="end" textLength="15.4" lengthAdjust="spacingAndGlyphs">250</text><text x="70.3" y="465.16" text-anchor="end" textLength="15.4" lengthAdjust="spacingAndGlyphs">300</text><text x="70.3" y="411.07" text-anchor="end" textLength="15.4" lengthAdjust="spacingAndGlyphs">350</text></g>
<clipPath id="cb"><rect x="151.5" y="397.9" width="878.8" height="377.4"/></clipPath>
<path d="M78,731.8 L78.07,730.34 L78.12,728.88 L78.16,727.4 L78.19,725.92 L78.21,724.42 L78.22,722.92 L78.23,721.41 L78.23,719.9 L78.22,718.38 L78.22,716.86 L78.21,715.33 L78.21,713.8 L78.21,712.27 L78.22,710.74 L78.24,709.2 L78.26,707.67 L78.3,706.13 L78.35,704.6 L78.42,703.07 L78.5,701.54 L78.59,700.02 L78.71,698.5 L78.85,696.98 L79.02,695.48 L79.21,693.97 L79.42,692.48 L79.67,690.99 L79.94,689.52 L80.25,688.05 L80.59,686.59 L80.97,685.15 L81.38,683.71 L81.83,682.29 L82.31,680.88 L82.82,679.48 L83.37,678.09 L83.95,676.72 L84.56,675.35 L85.19,674.01 L85.86,672.67 L86.55,671.35 L87.28,670.04 L88.02,668.74 L88.8,667.46 L89.6,666.19 L90.42,664.94 L91.26,663.7 L92.13,662.47 L93.02,661.26 L93.93,660.07 L94.86,658.89 L95.81,657.72 L96.77,656.57 L97.76,655.44 L98.75,654.32 L99.77,653.22 L100.8,652.14 L101.84,651.07 L102.9,650.02 L103.97,648.98 L105.05,647.97 L106.14,646.96 L107.25,645.98 L108.37,645 L109.5,644.05 L110.64,643.11 L111.79,642.18 L112.95,641.27 L114.12,640.37 L115.31,639.48 L116.5,638.61 L117.7,637.76 L118.92,636.91 L120.14,636.08 L121.37,635.26 L122.61,634.45 L123.86,633.65 L125.12,632.87 L126.39,632.09 L127.66,631.33 L128.95,630.58 L130.24,629.84 L131.54,629.11 L132.84,628.38 L134.16,627.67 L135.48,626.97 L136.81,626.28 L138.14,625.59 L139.48,624.91 L140.82,624.24 L142.17,623.58 L143.53,622.93 L144.89,622.28 L146.26,621.64 L147.63,621.01 L149.01,620.39 L150.39,619.77 L151.78,619.15 L153.17,618.54 L154.56,617.94 L155.96,617.34 L157.36,616.75 L158.76,616.16 L160.17,615.57 L161.58,614.99 L162.99,614.42 L164.4,613.84 L165.82,613.27 L167.23,612.7 L168.65,612.14 L170.07,611.57 L171.49,611.01 L172.92,610.45 L174.34,609.89 L175.76,609.34 L177.19,608.78 L178.61,608.22 L180.03,607.67 L181.46,607.11 L182.88,606.55 L184.3,606 L185.72,605.44 L187.14,604.88 L188.56,604.32 L189.98,603.76 L191.4,603.2 L192.82,602.64 L194.23,602.08 L195.65,601.52 L197.06,600.95 L198.47,600.38 L199.88,599.81 L201.29,599.24 L202.7,598.67 L204.1,598.09 L205.5,597.52 L206.9,596.93 L208.3,596.35 L209.7,595.77 L211.09,595.18 L212.49,594.58 L213.88,593.99 L215.26,593.39 L216.65,592.79 L218.03,592.18 L219.41,591.57 L220.78,590.96 L222.16,590.34 L223.53,589.72 L224.89,589.09 L226.26,588.46 L227.62,587.83 L228.98,587.19 L230.33,586.54 L231.68,585.89 L233.03,585.24 L234.37,584.58 L235.71,583.91 L237.04,583.24 L238.38,582.56 L239.7,581.88 L241.03,581.19 L242.34,580.49 L243.66,579.79 L244.97,579.09 L246.27,578.37 L247.57,577.65 L248.87,576.92 L250.16,576.19 L251.45,575.44 L252.73,574.7 L254.01,573.94 L255.28,573.17 L256.54,572.4 L257.8,571.62 L259.06,570.84 L260.31,570.04 L261.55,569.24 L262.79,568.42 L264.03,567.6 L265.25,566.77 L266.48,565.94 L267.69,565.09 L268.9,564.23 L270.1,563.37 L271.3,562.49 L272.49,561.61 L273.68,560.72 L274.85,559.81 L276.02,558.9 L277.19,557.98 L278.35,557.04 L279.5,556.1 L280.64,555.15 L281.78,554.18 L282.91,553.21 L284.03,552.22 L285.14,551.22 L286.25,550.22 L287.35,549.2 L288.45,548.17 L289.53,547.12 L290.61,546.07 L291.68,545 L292.74,543.93 L293.79,542.84 L294.84,541.74 L295.88,540.63 L296.92,539.51 L297.95,538.39 L298.97,537.26 L300,536.12 L301.02,534.98 L302.04,533.84 L303.07,532.7 L304.09,531.56 L305.11,530.42 L306.14,529.28 L307.17,528.15 L308.2,527.02 L309.24,525.9 L310.28,524.79 L311.33,523.68 L312.39,522.59 L313.45,521.5 L314.53,520.43 L315.61,519.37 L316.71,518.33 L317.81,517.3 L318.93,516.29 L320.06,515.3 L321.2,514.32 L322.36,513.36 L323.52,512.41 L324.69,511.49 L325.88,510.57 L327.08,509.68 L328.28,508.8 L329.5,507.94 L330.73,507.09 L331.96,506.26 L333.21,505.45 L334.47,504.65 L335.73,503.87 L337,503.1 L338.29,502.35 L339.58,501.61 L340.88,500.9 L342.19,500.19 L343.5,499.5 L344.82,498.83 L346.15,498.18 L347.49,497.54 L348.84,496.91 L350.19,496.3 L351.55,495.71 L352.91,495.13 L354.29,494.57 L355.66,494.02 L357.05,493.49 L358.44,492.97 L359.83,492.47 L361.24,491.98 L362.64,491.51 L364.05,491.05 L365.47,490.6 L366.89,490.17 L368.32,489.75 L369.75,489.34 L371.19,488.95 L372.63,488.57 L374.07,488.2 L375.52,487.84 L376.97,487.5 L378.43,487.16 L379.89,486.84 L381.36,486.53 L382.83,486.23 L384.3,485.94 L385.78,485.66 L387.25,485.39 L388.74,485.13 L390.22,484.87 L391.71,484.63 L393.2,484.4 L394.69,484.17 L396.19,483.95 L397.69,483.74 L399.19,483.54 L400.69,483.35 L402.2,483.16 L403.7,482.98 L405.21,482.8 L406.72,482.63 L408.23,482.47 L409.74,482.32 L411.26,482.17 L412.77,482.02 L414.29,481.88 L415.81,481.75 L417.32,481.61 L418.84,481.49 L420.36,481.37 L421.88,481.25 L423.4,481.13 L424.92,481.02 L426.44,480.91 L427.96,480.8 L429.48,480.7 L431,480.59 L432.52,480.49 L434.03,480.39 L435.55,480.29 L437.07,480.2 L438.58,480.1 L440.1,480 L441.61,479.91 L443.12,479.81 L444.63,479.72 L446.14,479.63 L447.65,479.54 L449.16,479.44 L450.67,479.35 L452.18,479.26 L453.68,479.17 L455.19,479.08 L456.7,478.99 L458.2,478.9 L459.7,478.81 L461.21,478.72 L462.71,478.63 L464.21,478.55 L465.71,478.46 L467.21,478.37 L468.72,478.28 L470.22,478.2 L471.71,478.11 L473.21,478.02 L474.71,477.94 L476.21,477.85 L477.71,477.76 L479.21,477.68 L480.71,477.59 L482.2,477.5 L483.7,477.42 L485.2,477.33 L486.69,477.24 L488.19,477.16 L489.69,477.07 L491.18,476.98 L492.68,476.9 L494.18,476.81 L495.67,476.72 L497.17,476.63 L498.66,476.54 L500.16,476.45 L501.66,476.37 L503.15,476.28 L504.65,476.19 L506.15,476.1 L507.64,476.01 L509.14,475.92 L510.64,475.83 L512.13,475.74 L513.63,475.65 L515.13,475.55 L516.62,475.46 L518.12,475.37 L519.62,475.28 L521.11,475.19 L522.61,475.1 L524.11,475 L525.6,474.91 L527.1,474.82 L528.6,474.73 L530.09,474.63 L531.59,474.54 L533.09,474.45 L534.58,474.35 L536.08,474.26 L537.58,474.17 L539.08,474.07 L540.57,473.98 L542.07,473.89 L543.57,473.79 L545.07,473.7 L546.56,473.6 L548.06,473.51 L549.56,473.41 L551.06,473.32 L552.55,473.23 L554.05,473.13 L555.55,473.04 L557.05,472.94 L558.54,472.85 L560.04,472.75 L561.54,472.66 L563.04,472.56 L564.54,472.47 L566.03,472.37 L567.53,472.28 L569.03,472.18 L570.53,472.09 L572.03,471.99 L573.52,471.9 L575.02,471.81 L576.52,471.71 L578.02,471.62 L579.52,471.52 L581.02,471.43 L582.52,471.33 L584.01,471.24 L585.51,471.14 L587.01,471.05 L588.51,470.95 L590.01,470.86 L591.51,470.77 L593.01,470.67 L594.51,470.58 L596.01,470.49 L597.51,470.39 L599.01,470.3 L600.51,470.2 L602,470.11 L603.5,470.02 L605,469.93 L606.5,469.83 L608,469.74 L609.5,469.65 L611,469.56 L612.5,469.46 L614,469.37 L615.5,469.28 L617,469.19 L618.5,469.1 L620,469.01 L621.5,468.91 L623,468.82 L624.51,468.73 L626.01,468.64 L627.51,468.55 L629.01,468.46 L630.51,468.37 L632.01,468.28 L633.51,468.2 L635.01,468.11 L636.51,468.02 L638.01,467.93 L639.52,467.84 L641.02,467.75 L642.52,467.67 L644.02,467.58 L645.52,467.49 L647.02,467.41 L648.53,467.32 L650.03,467.23 L651.53,467.15 L653.03,467.06 L654.53,466.98 L656.04,466.9 L657.54,466.81 L659.04,466.73 L660.54,466.64 L662.05,466.56 L663.55,466.48 L665.05,466.4 L666.56,466.31 L668.06,466.23 L669.56,466.15 L671.06,466.07 L672.57,465.99 L674.07,465.91 L675.57,465.83 L677.08,465.75 L678.58,465.68 L680.09,465.6 L681.59,465.52 L683.09,465.44 L684.6,465.37 L686.1,465.29 L687.61,465.21 L689.11,465.14 L690.62,465.06 L692.12,464.99 L693.62,464.92 L695.13,464.84 L696.63,464.77 L698.14,464.7 L699.64,464.63 L701.15,464.56 L702.66,464.49 L704.16,464.42 L705.67,464.35 L707.17,464.28 L708.68,464.21 L710.18,464.14 L711.69,464.07 L713.2,464.01 L714.7,463.94 L716.21,463.88 L717.72,463.81 L719.22,463.75 L720.73,463.68 L722.24,463.62 L723.74,463.56 L725.25,463.5 L726.76,463.43 L728.26,463.37 L729.77,463.31 L731.28,463.25 L732.79,463.2 L734.29,463.14 L735.8,463.08 L737.31,463.02 L738.82,462.97 L740.33,462.91 L741.83,462.86 L743.34,462.8 L744.85,462.75 L746.36,462.69 L747.87,462.64 L749.38,462.58 L750.88,462.53 L752.39,462.48 L753.9,462.42 L755.41,462.37 L756.92,462.32 L758.43,462.26 L759.94,462.21 L761.45,462.16 L762.95,462.1 L764.46,462.05 L765.97,462 L767.48,461.94 L768.99,461.89 L770.5,461.83 L772.01,461.78 L773.51,461.72 L775.02,461.67 L776.53,461.61 L778.04,461.56 L779.55,461.5 L781.05,461.44 L782.56,461.38 L784.07,461.33 L785.58,461.27 L787.09,461.21 L788.59,461.15 L790.1,461.08 L791.61,461.02 L793.12,460.96 L794.62,460.89 L796.13,460.83 L797.64,460.76 L799.14,460.7 L800.65,460.63 L802.15,460.56 L803.66,460.49 L805.17,460.42 L806.67,460.35 L808.18,460.27 L809.68,460.2 L811.19,460.12 L812.69,460.05 L814.2,459.97 L815.7,459.89 L817.21,459.8 L818.71,459.72 L820.21,459.64 L821.72,459.55 L823.22,459.46 L824.72,459.37 L826.22,459.28 L827.73,459.19 L829.23,459.1 L830.73,459 L832.23,458.9 L833.73,458.8 L835.23,458.7 L836.73,458.6 L838.23,458.49 L839.73,458.39 L841.23,458.28 L842.73,458.16 L844.23,458.05 L845.73,457.93 L847.23,457.82 L848.73,457.7 L850.22,457.57 L851.72,457.45 L853.22,457.32 L854.71,457.19 L856.21,457.06 L857.7,456.93 L859.2,456.79 L860.69,456.65 L862.19,456.51 L863.68,456.37 L865.17,456.22 L866.67,456.07 L868.16,455.92 L869.65,455.76 L871.14,455.6 L872.63,455.44 L874.12,455.28 L875.61,455.11 L877.1,454.95 L878.59,454.77 L880.08,454.6 L881.57,454.42 L883.05,454.24 L884.54,454.05 L886.03,453.87 L887.51,453.68 L889,453.48 L890.48,453.29 L891.97,453.09 L893.45,452.88 L894.93,452.67 L896.42,452.46 L897.9,452.25 L899.38,452.03 L900.86,451.81 L902.34,451.59 L903.82,451.36 L905.3,451.13 L906.78,450.89 L908.25,450.65 L909.73,450.41 L911.21,450.16 L912.68,449.91 L914.16,449.66 L915.63,449.4 L917.1,449.14 L918.58,448.87 L920.05,448.6 L921.52,448.33 L922.99,448.05 L924.46,447.77 L925.93,447.48 L927.4,447.19 L928.87,446.9 L930.34,446.6 L931.8,446.3 L933.27,445.99 L934.73,445.68 L936.2,445.36 L937.66,445.04 L939.13,444.72 L940.59,444.39 L942.05,444.05 L943.51,443.71 L944.96,443.36 L946.41,442.99 L947.86,442.62 L949.3,442.24 L950.74,441.84 L952.17,441.42 L953.6,440.99 L955.01,440.54 L956.42,440.08 L957.82,439.59 L959.21,439.08 L960.59,438.55 L961.95,437.99 L963.31,437.41 L964.65,436.81 L965.98,436.17 L967.3,435.5 L968.6,434.81 L969.89,434.08 L971.16,433.32 L972.41,432.52 L973.65,431.69 L974.87,430.83 L976.08,429.93 L977.27,429.01 L978.45,428.06 L979.62,427.09 L980.78,426.1 L981.93,425.09 L983.07,424.07 L984.21,423.03 L985.34,421.99 L986.47,420.94 L987.59,419.88 L988.71,418.83 L989.84,417.77 L990.96,416.72 L992.08,415.68 L993.21,414.64 L994.34,413.62 L995.48,412.61 L996.63,411.62 L997.78,410.65 L998.94,409.71 L1000.11,408.79 L1001.3,407.89" stroke="#cf3c3c" stroke-width="1.7" fill="none" stroke-linejoin="round"/>
<g clip-path="url(#cb)">
<path d="M78,731.8 L78.07,730.34 L78.12,728.88 L78.16,727.4 L78.19,725.92 L78.21,724.42 L78.22,722.92 L78.23,721.41 L78.23,719.9 L78.22,718.38 L78.22,716.86 L78.21,715.33 L78.21,713.8 L78.21,712.27 L78.22,710.74 L78.24,709.2 L78.26,707.67 L78.3,706.13 L78.35,704.6 L78.42,703.07 L78.5,701.54 L78.59,700.02 L78.71,698.5 L78.85,696.98 L79.02,695.48 L79.21,693.97 L79.42,692.48 L79.67,690.99 L79.94,689.52 L80.25,688.05 L80.59,686.59 L80.97,685.15 L81.38,683.71 L81.83,682.29 L82.31,680.88 L82.82,679.48 L83.37,678.09 L83.95,676.72 L84.56,675.35 L85.19,674.01 L85.86,672.67 L86.55,671.35 L87.28,670.04 L88.02,668.74 L88.8,667.46 L89.6,666.19 L90.42,664.94 L91.26,663.7 L92.13,662.47 L93.02,661.26 L93.93,660.07 L94.86,658.89 L95.81,657.72 L96.77,656.57 L97.76,655.44 L98.75,654.32 L99.77,653.22 L100.8,652.14 L101.84,651.07 L102.9,650.02 L103.97,648.98 L105.05,647.97 L106.14,646.96 L107.25,645.98 L108.37,645 L109.5,644.05 L110.64,643.11 L111.79,642.18 L112.95,641.27 L114.12,640.37 L115.31,639.48 L116.5,638.61 L117.7,637.76 L118.92,636.91 L120.14,636.08 L121.37,635.26 L122.61,634.45 L123.86,633.65 L125.12,632.87 L126.39,632.09 L127.66,631.33 L128.95,630.58 L130.24,629.84 L131.54,629.11 L132.84,628.38 L134.16,627.67 L135.48,626.97 L136.81,626.28 L138.14,625.59 L139.48,624.91 L140.82,624.24 L142.17,623.58 L143.53,622.93 L144.89,622.28 L146.26,621.64 L147.63,621.01 L149.01,620.39 L150.39,619.77 L151.78,619.15 L153.17,618.54 L154.56,617.94 L155.96,617.34 L157.36,616.75 L158.76,616.16 L160.17,615.57 L161.58,614.99 L162.99,614.42 L164.4,613.84 L165.82,613.27 L167.23,612.7 L168.65,612.14 L170.07,611.57 L171.49,611.01 L172.92,610.45 L174.34,609.89 L175.76,609.34 L177.19,608.78 L178.61,608.22 L180.03,607.67 L181.46,607.11 L182.88,606.55 L184.3,606 L185.72,605.44 L187.14,604.88 L188.56,604.32 L189.98,603.76 L191.4,603.2 L192.82,602.64 L194.23,602.08 L195.65,601.52 L197.06,600.95 L198.47,600.38 L199.88,599.81 L201.29,599.24 L202.7,598.67 L204.1,598.09 L205.5,597.52 L206.9,596.93 L208.3,596.35 L209.7,595.77 L211.09,595.18 L212.49,594.58 L213.88,593.99 L215.26,593.39 L216.65,592.79 L218.03,592.18 L219.41,591.57 L220.78,590.96 L222.16,590.34 L223.53,589.72 L224.89,589.09 L226.26,588.46 L227.62,587.83 L228.98,587.19 L230.33,586.54 L231.68,585.89 L233.03,585.24 L234.37,584.58 L235.71,583.91 L237.04,583.24 L238.38,582.56 L239.7,581.88 L241.03,581.19 L242.34,580.49 L243.66,579.79 L244.97,579.09 L246.27,578.37 L247.57,577.65 L248.87,576.92 L250.16,576.19 L251.45,575.44 L252.73,574.7 L254.01,573.94 L255.28,573.17 L256.54,572.4 L257.8,571.62 L259.06,570.84 L260.31,570.04 L261.55,569.24 L262.79,568.42 L264.03,567.6 L265.25,566.77 L266.48,565.94 L267.69,565.09 L268.9,564.23 L270.1,563.37 L271.3,562.49 L272.49,561.61 L273.68,560.72 L274.85,559.81 L276.02,558.9 L277.19,557.98 L278.35,557.04 L279.5,556.1 L280.64,555.15 L281.78,554.18 L282.91,553.21 L284.03,552.22 L285.14,551.22 L286.25,550.22 L287.35,549.2 L288.45,548.17 L289.53,547.12 L290.61,546.07 L291.68,545 L292.74,543.93 L293.79,542.84 L294.84,541.74 L295.88,540.63 L296.92,539.51 L297.95,538.39 L298.97,537.26 L300,536.12 L301.02,534.98 L302.04,533.84 L303.07,532.7 L304.09,531.56 L305.11,530.42 L306.14,529.28 L307.17,528.15 L308.2,527.02 L309.24,525.9 L310.28,524.79 L311.33,523.68 L312.39,522.59 L313.45,521.5 L314.53,520.43 L315.61,519.37 L316.71,518.33 L317.81,517.3 L318.93,516.29 L320.06,515.3 L321.2,514.32 L322.36,513.36 L323.52,512.41 L324.69,511.49 L325.88,510.57 L327.08,509.68 L328.28,508.8 L329.5,507.94 L330.73,507.09 L331.96,506.26 L333.21,505.45 L334.47,504.65 L335.73,503.87 L337,503.1 L338.29,502.35 L339.58,501.61 L340.88,500.9 L342.19,500.19 L343.5,499.5 L344.82,498.83 L346.15,498.18 L347.49,497.54 L348.84,496.91 L350.19,496.3 L351.55,495.71 L352.91,495.13 L354.29,494.57 L355.66,494.02 L357.05,493.49 L358.44,492.97 L359.83,492.47 L361.24,491.98 L362.64,491.51 L364.05,491.05 L365.47,490.6 L366.89,490.17 L368.32,489.75 L369.75,489.34 L371.19,488.95 L372.63,488.57 L374.07,488.2 L375.52,487.84 L376.97,487.5 L378.43,487.16 L379.89,486.84 L381.36,486.53 L382.83,486.23 L384.3,485.94 L385.78,485.66 L387.25,485.39 L388.74,485.13 L390.22,484.87 L391.71,484.63 L393.2,484.4 L394.69,484.17 L396.19,483.95 L397.69,483.74 L399.19,483.54 L400.69,483.35 L402.2,483.16 L403.7,482.98 L405.21,482.8 L406.72,482.63 L408.23,482.48 L409.74,482.36 L411.26,482.26 L412.77,482.18 L414.29,482.09 L415.81,482.01 L417.32,481.91 L418.84,481.8 L420.36,481.68 L421.88,481.53 L423.4,481.37 L424.92,481.19 L426.44,480.99 L427.96,480.77 L429.48,480.55 L431,480.32 L432.42,480.11 L433.91,479.9 L435.39,479.68 L436.88,479.47 L438.37,479.27 L439.86,479.06 L441.35,478.86 L442.83,478.66 L444.32,478.46 L445.81,478.26 L447.3,478.06 L448.79,477.87 L450.28,477.68 L451.77,477.49 L453.26,477.3 L454.75,477.12 L456.24,476.93 L457.73,476.75 L459.22,476.57 L460.71,476.39 L462.2,476.22 L463.69,476.05 L465.18,475.87 L466.67,475.7 L468.16,475.54 L469.66,475.37 L471.15,475.2 L472.64,475.04 L474.13,474.88 L475.62,474.72 L477.12,474.57 L478.61,474.41 L480.1,474.26 L481.6,474.1 L483.09,473.95 L484.58,473.81 L486.08,473.66 L487.57,473.51 L489.07,473.37 L490.56,473.23 L492.05,473.09 L493.55,472.95 L495.04,472.81 L496.54,472.68 L498.03,472.54 L499.53,472.41 L501.03,472.28 L502.52,472.15 L504.02,472.02 L505.51,471.9 L507.01,471.77 L508.51,471.65 L510,471.53 L511.5,471.41 L513,471.29 L514.49,471.17 L515.99,471.06 L517.49,470.94 L518.98,470.83 L520.48,470.72 L521.98,470.61 L523.48,470.5 L524.97,470.39 L526.47,470.28 L527.97,470.18 L529.47,470.07 L530.97,469.97 L532.47,469.87 L533.97,469.77 L535.46,469.67 L536.96,469.57 L538.46,469.48 L539.96,469.38 L541.46,469.29 L542.96,469.2 L544.46,469.1 L545.96,469.01 L547.46,468.92 L548.96,468.84 L550.46,468.75 L551.96,468.66 L553.46,468.58 L554.96,468.49 L556.46,468.41 L557.96,468.33 L559.46,468.25 L560.96,468.17 L562.47,468.09 L563.97,468.01 L565.47,467.93 L566.97,467.86 L568.47,467.78 L569.97,467.71 L571.47,467.64 L572.98,467.56 L574.48,467.49 L575.98,467.42 L577.48,467.35 L578.98,467.28 L580.49,467.21 L581.99,467.15 L583.49,467.08 L584.99,467.01 L586.5,466.95 L588,466.89 L589.5,466.82 L591,466.76 L592.51,466.7 L594.01,466.64 L595.51,466.58 L597.02,466.52 L598.52,466.46 L600.02,466.4 L601.53,466.34 L603.03,466.28 L604.53,466.22 L606.04,466.17 L607.54,466.11 L609.05,466.06 L610.55,466 L612.05,465.95 L613.56,465.9 L615.06,465.84 L616.57,465.79 L618.07,465.74 L619.57,465.69 L621.08,465.63 L622.58,465.58 L624.09,465.53 L625.59,465.48 L627.1,465.43 L628.6,465.38 L630.11,465.34 L631.61,465.29 L633.12,465.24 L634.62,465.19 L636.13,465.14 L637.63,465.1 L639.13,465.05 L640.64,465 L642.14,464.96 L643.65,464.91 L645.16,464.86 L646.66,464.82 L648.17,464.77 L649.67,464.73 L651.18,464.68 L652.68,464.64 L654.19,464.59 L655.69,464.55 L657.2,464.5 L658.7,464.46 L660.21,464.41 L661.71,464.37 L663.22,464.32 L664.72,464.28 L666.23,464.24 L667.74,464.19 L669.24,464.15 L670.75,464.1 L672.25,464.06 L673.76,464.01 L675.26,463.97 L676.77,463.93 L678.27,463.88 L679.78,463.84 L681.29,463.79 L682.79,463.75 L684.3,463.7 L685.8,463.66 L687.31,463.61 L688.81,463.57 L690.32,463.52 L691.82,463.47 L693.33,463.43 L694.84,463.38 L696.34,463.33 L697.85,463.29 L699.35,463.24 L700.86,463.19 L702.36,463.15 L703.87,463.1 L705.38,463.05 L706.88,463 L708.39,462.95 L709.89,462.9 L711.4,462.85 L712.9,462.8 L714.41,462.75 L715.91,462.7 L717.42,462.65 L718.92,462.6 L720.43,462.54 L721.93,462.49 L723.44,462.44 L724.95,462.38 L726.45,462.33 L727.96,462.27 L729.46,462.22 L730.97,462.16 L732.47,462.11 L733.98,462.05 L735.48,461.99 L736.99,461.93 L738.49,461.87 L740,461.81 L741.5,461.75 L743.01,461.69 L744.51,461.63 L746.01,461.57 L747.52,461.5 L749.02,461.44 L750.53,461.37 L752.03,461.31 L753.54,461.24 L755.04,461.18 L756.55,461.11 L758.05,461.04 L759.55,460.97 L761.06,460.9 L762.56,460.83 L764.07,460.76 L765.57,460.68 L767.07,460.61 L768.58,460.53 L770.08,460.46 L771.59,460.38 L773.09,460.3 L774.59,460.23 L776.1,460.15 L777.6,460.06 L779.1,459.98 L780.6,459.9 L782.11,459.82 L783.61,459.73 L785.11,459.64 L786.62,459.55 L788.12,459.47 L789.62,459.37 L791.12,459.28 L792.62,459.19 L794.13,459.09 L795.63,459 L797.13,458.9 L798.63,458.8 L800.13,458.7 L801.63,458.6 L803.13,458.49 L804.63,458.39 L806.13,458.28 L807.63,458.17 L809.13,458.06 L810.63,457.94 L812.13,457.83 L813.63,457.71 L815.13,457.59 L816.63,457.47 L818.12,457.35 L819.62,457.23 L821.12,457.1 L822.62,456.97 L824.11,456.84 L825.61,456.71 L827.11,456.57 L828.6,456.44 L830.1,456.3 L831.59,456.15 L833.09,456.01 L834.58,455.86 L836.08,455.72 L837.57,455.56 L839.06,455.41 L840.56,455.26 L842.05,455.1 L843.54,454.94 L845.04,454.77 L846.53,454.61 L848.02,454.44 L849.51,454.27 L851,454.09 L852.49,453.92 L853.98,453.74 L855.47,453.56 L856.96,453.37 L858.45,453.18 L859.93,452.99 L861.42,452.8 L862.91,452.6 L864.39,452.4 L865.88,452.2 L867.37,452 L868.85,451.79 L870.33,451.58 L871.82,451.36 L873.3,451.14 L874.79,450.92 L876.27,450.7 L877.75,450.47 L879.23,450.24 L880.71,450.01 L882.19,449.77 L883.67,449.53 L885.15,449.28 L886.63,449.04 L888.11,448.79 L889.59,448.53 L891.06,448.27 L892.54,448.01 L894.01,447.75 L895.49,447.48 L896.96,447.2 L898.44,446.93 L899.91,446.65 L901.38,446.36 L902.86,446.08 L904.33,445.79 L905.8,445.49 L907.27,445.19 L908.74,444.89 L910.21,444.58 L911.67,444.27 L913.14,443.96 L914.61,443.64 L916.07,443.31 L917.54,442.99 L919,442.65 L920.47,442.32 L921.93,441.98 L923.39,441.63 L924.85,441.29 L926.32,440.93 L927.78,440.58 L929.24,440.22 L930.69,439.85 L932.15,439.48 L933.61,439.1 L935.07,438.73 L936.52,438.34 L937.98,437.95 L939.43,437.56 L940.88,437.16 L942.34,436.76 L943.79,436.35 L945.24,435.94 L946.68,435.52 L948.13,435.09 L949.57,434.66 L951.01,434.22 L952.45,433.77 L953.89,433.31 L955.32,432.85 L956.75,432.37 L958.17,431.89 L959.59,431.39 L961.01,430.89 L962.42,430.37 L963.82,429.85 L965.22,429.31 L966.62,428.76 L968.01,428.2 L969.39,427.62 L970.77,427.03 L972.14,426.43 L973.51,425.82 L974.86,425.19 L976.21,424.54 L977.56,423.88 L978.89,423.21 L980.22,422.51 L981.54,421.8 L982.85,421.08 L984.15,420.34 L985.44,419.58 L986.72,418.8 L988,418 L989.26,417.19 L990.51,416.35 L991.76,415.49 L992.99,414.62 L994.21,413.72 L995.42,412.81 L996.62,411.87 L997.81,410.91 L998.98,409.93 L1000.15,408.92 L1001.3,407.89" stroke="#cf3c3c" stroke-width="1.7" fill="none" stroke-linejoin="round"/>
<path d="M78,731.8 L78.07,730.34 L78.12,728.88 L78.16,727.4 L78.19,725.92 L78.21,724.42 L78.22,722.92 L78.23,721.41 L78.23,719.9 L78.22,718.38 L78.22,716.86 L78.21,715.33 L78.21,713.8 L78.21,712.27 L78.22,710.74 L78.24,709.2 L78.26,707.67 L78.3,706.13 L78.35,704.6 L78.42,703.07 L78.5,701.54 L78.59,700.02 L78.71,698.5 L78.85,696.98 L79.02,695.48 L79.21,693.97 L79.42,692.48 L79.67,690.99 L79.94,689.52 L80.25,688.05 L80.59,686.59 L80.97,685.15 L81.38,683.71 L81.83,682.29 L82.31,680.88 L82.82,679.48 L83.37,678.09 L83.95,676.72 L84.56,675.35 L85.19,674.01 L85.86,672.67 L86.55,671.35 L87.28,670.04 L88.02,668.74 L88.8,667.46 L89.6,666.19 L90.42,664.94 L91.26,663.7 L92.13,662.47 L93.02,661.26 L93.93,660.07 L94.86,658.89 L95.81,657.72 L96.77,656.57 L97.76,655.44 L98.75,654.32 L99.77,653.22 L100.8,652.14 L101.84,651.07 L102.9,650.02 L103.97,648.98 L105.05,647.97 L106.14,646.96 L107.25,645.98 L108.37,645 L109.5,644.05 L110.64,643.11 L111.79,642.18 L112.95,641.27 L114.12,640.37 L115.31,639.48 L116.5,638.61 L117.7,637.76 L118.92,636.91 L120.14,636.08 L121.37,635.26 L122.61,634.45 L123.86,633.65 L125.12,632.87 L126.39,632.09 L127.66,631.33 L128.95,630.58 L130.24,629.84 L131.54,629.11 L132.84,628.38 L134.16,627.67 L135.48,626.97 L136.81,626.28 L138.14,625.59 L139.48,624.91 L140.82,624.24 L142.17,623.58 L143.53,622.93 L144.89,622.28 L146.26,621.64 L147.63,621.01 L149.01,620.39 L150.39,619.77 L151.78,619.15 L153.17,618.54 L154.56,617.94 L155.96,617.34 L157.36,616.75 L158.76,616.16 L160.17,615.57 L161.58,614.99 L162.99,614.42 L164.4,613.84 L165.82,613.27 L167.23,612.7 L168.65,612.14 L170.07,611.57 L171.49,611.01 L172.92,610.45 L174.34,609.89 L175.76,609.34 L177.19,608.78 L178.61,608.22 L180.03,607.67 L181.46,607.11 L182.88,606.55 L184.3,606 L185.72,605.44 L187.14,604.88 L188.56,604.32 L189.98,603.76 L191.4,603.2 L192.82,602.64 L194.23,602.08 L195.65,601.52 L197.06,600.95 L198.47,600.38 L199.88,599.81 L201.29,599.24 L202.7,598.67 L204.1,598.09 L205.5,597.52 L206.9,596.93 L208.3,596.35 L209.7,595.77 L211.09,595.18 L212.49,594.58 L213.88,593.99 L215.26,593.39 L216.65,592.79 L218.03,592.18 L219.41,591.57 L220.78,590.96 L222.16,590.34 L223.53,589.72 L224.89,589.09 L226.26,588.46 L227.62,587.83 L228.98,587.19 L230.33,586.54 L231.68,585.89 L233.03,585.24 L234.37,584.58 L235.71,583.91 L237.04,583.24 L238.38,582.56 L239.7,581.88 L241.03,581.19 L242.34,580.49 L243.66,579.79 L244.97,579.09 L246.27,578.37 L247.57,577.65 L248.87,576.92 L250.16,576.19 L251.45,575.44 L252.73,574.7 L254.01,573.94 L255.28,573.17 L256.54,572.4 L257.8,571.62 L259.06,570.84 L260.31,570.04 L261.55,569.24 L262.79,568.42 L264.03,567.6 L265.25,566.77 L266.48,565.94 L267.69,565.09 L268.9,564.23 L270.1,563.37 L271.3,562.49 L272.49,561.61 L273.68,560.72 L274.85,559.81 L276.02,558.9 L277.19,557.98 L278.35,557.04 L279.5,556.1 L280.64,555.15 L281.78,554.18 L282.91,553.21 L284.03,552.22 L285.14,551.22 L286.25,550.22 L287.35,549.2 L288.45,548.17 L289.53,547.12 L290.61,546.07 L291.68,545 L292.74,543.93 L293.79,542.84 L294.84,541.74 L295.88,540.63 L296.92,539.51 L297.95,538.39 L298.97,537.26 L300,536.12 L301.02,534.98 L302.04,533.84 L303.07,532.7 L304.09,531.56 L305.11,530.42 L306.14,529.28 L307.17,528.15 L308.2,527.02 L309.24,525.9 L310.28,524.79 L311.33,523.68 L312.39,522.59 L313.45,521.5 L314.53,520.43 L315.61,519.37 L316.71,518.33 L317.81,517.3 L318.93,516.29 L320.06,515.3 L321.2,514.32 L322.36,513.36 L323.52,512.41 L324.69,511.49 L325.88,510.57 L327.08,509.68 L328.28,508.8 L329.5,507.94 L330.73,507.09 L331.96,506.26 L333.21,505.45 L334.47,504.65 L335.73,503.87 L337,503.1 L338.29,502.35 L339.58,501.61 L340.88,500.9 L342.19,500.19 L343.5,499.5 L344.82,498.83 L346.15,498.18 L347.49,497.54 L348.84,496.91 L350.19,496.3 L351.55,495.71 L352.91,495.13 L354.29,494.57 L355.66,494.02 L357.05,493.49 L358.44,492.97 L359.83,492.47 L361.24,491.98 L362.64,491.51 L364.05,491.05 L365.47,490.6 L366.89,490.17 L368.32,489.75 L369.75,489.34 L371.19,488.95 L372.63,488.57 L374.07,488.2 L375.52,487.84 L376.97,487.5 L378.43,487.16 L379.89,486.84 L381.36,486.53 L382.83,486.23 L384.3,485.94 L385.78,485.66 L387.25,485.39 L388.74,485.13 L390.22,484.87 L391.71,484.63 L393.2,484.4 L394.69,484.17 L396.19,483.95 L397.69,483.74 L399.19,483.54 L400.69,483.35 L402.2,483.16 L403.7,482.98 L405.21,482.8 L406.72,482.63 L408.23,482.47 L409.74,482.32 L411.26,482.17 L412.77,482.02 L414.29,481.88 L415.81,481.75 L417.32,481.61 L418.84,481.49 L420.36,481.37 L421.88,481.25 L423.4,481.13 L424.92,481.02 L426.44,480.91 L427.96,480.8 L429.48,480.7 L431,480.59 L432.52,480.49 L434.03,480.39 L435.55,480.29 L437.07,480.2 L438.58,480.1 L440.1,480 L441.61,479.91 L443.12,479.81 L444.63,479.72 L446.14,479.63 L447.65,479.54 L449.16,479.44 L450.67,479.35 L452.18,479.26 L453.68,479.17 L455.19,479.08 L456.7,478.99 L458.2,478.9 L459.7,478.81 L461.21,478.72 L462.71,478.63 L464.21,478.55 L465.71,478.46 L467.21,478.37 L468.72,478.28 L470.22,478.2 L471.71,478.11 L473.21,478.02 L474.71,477.94 L476.21,477.85 L477.71,477.76 L479.21,477.68 L480.71,477.59 L482.2,477.5 L483.7,477.42 L485.2,477.33 L486.69,477.24 L488.19,477.16 L489.69,477.07 L491.18,476.98 L492.68,476.9 L494.18,476.81 L495.67,476.72 L497.17,476.63 L498.66,476.54 L500.16,476.45 L501.66,476.37 L503.15,476.28 L504.65,476.19 L506.15,476.1 L507.64,476.01 L509.14,475.92 L510.64,475.83 L512.13,475.74 L513.63,475.65 L515.13,475.55 L516.62,475.46 L518.12,475.37 L519.62,475.28 L521.11,475.19 L522.61,475.1 L524.11,475 L525.6,474.91 L527.1,474.82 L528.6,474.73 L530.09,474.63 L531.59,474.54 L533.09,474.45 L534.58,474.35 L536.08,474.26 L537.58,474.17 L539.08,474.07 L540.57,473.98 L542.07,473.89 L543.57,473.79 L545.07,473.7 L546.56,473.6 L548.06,473.51 L549.56,473.41 L551.06,473.32 L552.55,473.23 L554.05,473.13 L555.55,473.04 L557.05,472.94 L558.54,472.85 L560.04,472.75 L561.54,472.66 L563.04,472.56 L564.54,472.47 L566.03,472.37 L567.53,472.28 L569.03,472.18 L570.53,472.09 L572.03,471.99 L573.52,471.9 L575.02,471.81 L576.52,471.71 L578.02,471.62 L579.52,471.52 L581.02,471.43 L582.52,471.33 L584.01,471.24 L585.51,471.14 L587.01,471.05 L588.51,470.95 L590.01,470.86 L591.51,470.77 L593.01,470.67 L594.51,470.58 L596.01,470.49 L597.51,470.39 L599.01,470.3 L600.51,470.2 L602,470.11 L603.5,470.02 L605,469.93 L606.5,469.83 L608,469.74 L609.5,469.65 L611,469.56 L612.5,469.46 L614,469.37 L615.5,469.28 L617,469.19 L618.5,469.1 L620,469.01 L621.5,468.91 L623,468.82 L624.51,468.73 L626.01,468.64 L627.51,468.55 L629.01,468.46 L630.51,468.37 L632.01,468.28 L633.51,468.2 L635.01,468.11 L636.51,468.02 L638.01,467.93 L639.52,467.84 L641.02,467.75 L642.52,467.67 L644.02,467.58 L645.52,467.49 L647.02,467.41 L648.53,467.32 L650.03,467.23 L651.53,467.15 L653.03,467.06 L654.53,466.98 L656.04,466.9 L657.54,466.81 L659.04,466.73 L660.54,466.64 L662.05,466.56 L663.55,466.48 L665.05,466.4 L666.56,466.31 L668.06,466.23 L669.56,466.15 L671.06,466.07 L672.57,465.99 L674.07,465.91 L675.57,465.83 L677.08,465.75 L678.58,465.68 L680.09,465.6 L681.59,465.52 L683.09,465.44 L684.6,465.37 L686.1,465.29 L687.61,465.21 L689.11,465.14 L690.62,465.06 L692.12,464.99 L693.62,464.92 L695.13,464.84 L696.63,464.77 L698.14,464.7 L699.64,464.63 L701.15,464.56 L702.66,464.49 L704.16,464.42 L705.67,464.35 L707.17,464.28 L708.68,464.21 L710.18,464.14 L711.69,464.07 L713.2,464.01 L714.7,463.94 L716.21,463.88 L717.72,463.81 L719.22,463.75 L720.73,463.68 L722.24,463.62 L723.74,463.56 L725.25,463.5 L726.76,463.43 L728.26,463.37 L729.77,463.31 L731.28,463.25 L732.79,463.2 L734.29,463.14 L735.8,463.08 L737.31,463.02 L738.82,462.97 L740.33,462.91 L741.83,462.86 L743.34,462.8 L744.85,462.75 L746.36,462.69 L747.87,462.64 L749.38,462.58 L750.88,462.53 L752.39,462.48 L753.9,462.42 L755.41,462.37 L756.92,462.32 L758.43,462.26 L759.94,462.21 L761.45,462.16 L762.95,462.1 L764.46,462.05 L765.97,462 L767.48,461.94 L768.99,461.89 L770.5,461.83 L772.01,461.78 L773.51,461.72 L775.02,461.67 L776.53,461.61 L778.04,461.56 L779.55,461.5 L781.05,461.44 L782.56,461.38 L784.07,461.33 L785.58,461.27 L787.09,461.21 L788.59,461.15 L790.1,461.08 L791.61,461.02 L793.12,460.96 L794.62,460.89 L796.13,460.83 L797.64,460.76 L799.14,460.7 L800.65,460.63 L802.15,460.56 L803.66,460.49 L805.17,460.42 L806.67,460.35 L808.18,460.27 L809.68,460.2 L811.19,460.12 L812.69,460.05 L814.2,459.97 L815.7,459.89 L817.21,459.8 L818.71,459.72 L820.21,459.64 L821.72,459.55 L823.22,459.46 L824.72,459.37 L826.22,459.28 L827.73,459.19 L829.23,459.1 L830.73,459 L832.23,458.9 L833.73,458.8 L835.23,458.7 L836.73,458.6 L838.23,458.49 L839.73,458.39 L841.23,458.28 L842.73,458.16 L844.23,458.05 L845.73,457.93 L847.23,457.82 L848.73,457.7 L850.22,457.57 L851.72,457.45 L853.22,457.32 L854.71,457.19 L856.21,457.06 L857.7,456.93 L859.2,456.79 L860.69,456.65 L862.19,456.51 L863.68,456.37 L865.17,456.22 L866.67,456.07 L868.16,455.92 L869.65,455.76 L871.14,455.6 L872.63,455.44 L874.12,455.28 L875.61,455.11 L877.1,454.95 L878.59,454.77 L880.08,454.6 L881.57,454.42 L883.05,454.24 L884.54,454.05 L886.03,453.87 L887.51,453.68 L889,453.48 L890.48,453.29 L891.97,453.09 L893.45,452.88 L894.93,452.67 L896.42,452.46 L897.9,452.25 L899.38,452.03 L900.86,451.81 L902.34,451.59 L903.82,451.36 L905.3,451.13 L906.78,450.89 L908.25,450.65 L909.73,450.41 L911.21,450.16 L912.68,449.91 L914.16,449.66 L915.63,449.4 L917.1,449.14 L918.58,448.87 L920.05,448.6 L921.52,448.33 L922.99,448.05 L924.46,447.77 L925.93,447.48 L927.4,447.19 L928.87,446.9 L930.34,446.6 L931.8,446.3 L933.27,445.99 L934.73,445.68 L936.2,445.36 L937.66,445.04 L939.13,444.72 L940.59,444.39 L942.05,444.05 L943.51,443.71 L944.96,443.36 L946.41,442.99 L947.86,442.62 L949.3,442.24 L950.74,441.84 L952.17,441.42 L953.6,440.99 L955.01,440.54 L956.42,440.08 L957.82,439.59 L959.21,439.08 L960.59,438.55 L961.95,437.99 L963.31,437.41 L964.65,436.81 L965.98,436.17 L967.3,435.5 L968.6,434.81 L969.89,434.08 L971.16,433.32 L972.41,432.52 L973.65,431.69 L974.87,430.83 L976.08,429.93 L977.27,429.01 L978.45,428.06 L979.62,427.09 L980.78,426.1 L981.93,425.09 L983.07,424.07 L984.21,423.03 L985.34,421.99 L986.47,420.94 L987.59,419.88 L988.71,418.83 L989.84,417.77 L990.96,416.72 L992.08,415.68 L993.21,414.64 L994.34,413.62 L995.48,412.61 L996.63,411.62 L997.78,410.65 L998.94,409.71 L1000.11,408.79 L1001.3,407.89" stroke="#2a0505" stroke-width="0.95" fill="none" stroke-dasharray="2 3.5"/>
<path d="M78,731.8 L78.07,730.34 L78.12,728.88 L78.16,727.4 L78.19,725.92 L78.21,724.42 L78.22,722.92 L78.23,721.41 L78.23,719.9 L78.22,718.38 L78.22,716.86 L78.21,715.33 L78.21,713.8 L78.21,712.27 L78.22,710.74 L78.24,709.2 L78.26,707.67 L78.3,706.13 L78.35,704.6 L78.42,703.07 L78.5,701.54 L78.59,700.02 L78.71,698.5 L78.85,696.98 L79.02,695.48 L79.21,693.97 L79.42,692.48 L79.67,690.99 L79.94,689.52 L80.25,688.05 L80.59,686.59 L80.97,685.15 L81.38,683.71 L81.83,682.29 L82.31,680.88 L82.82,679.48 L83.37,678.09 L83.95,676.72 L84.56,675.35 L85.19,674.01 L85.86,672.67 L86.55,671.35 L87.28,670.04 L88.02,668.74 L88.8,667.46 L89.6,666.19 L90.42,664.94 L91.26,663.7 L92.13,662.47 L93.02,661.26 L93.93,660.07 L94.86,658.89 L95.81,657.72 L96.77,656.57 L97.76,655.44 L98.75,654.32 L99.77,653.22 L100.8,652.14 L101.84,651.07 L102.9,650.02 L103.97,648.98 L105.05,647.97 L106.14,646.96 L107.25,645.98 L108.37,645 L109.5,644.05 L110.64,643.11 L111.79,642.18 L112.95,641.27 L114.12,640.37 L115.31,639.48 L116.5,638.61 L117.7,637.76 L118.92,636.91 L120.14,636.08 L121.37,635.26 L122.61,634.45 L123.86,633.65 L125.12,632.87 L126.39,632.09 L127.66,631.33 L128.95,630.58 L130.24,629.84 L131.54,629.11 L132.84,628.38 L134.16,627.67 L135.48,626.97 L136.81,626.28 L138.14,625.59 L139.48,624.91 L140.82,624.24 L142.17,623.58 L143.53,622.93 L144.89,622.28 L146.26,621.64 L147.63,621.01 L149.01,620.39 L150.39,619.77 L151.78,619.15 L153.17,618.54 L154.56,617.94 L155.96,617.34 L157.36,616.75 L158.76,616.16 L160.17,615.57 L161.58,614.99 L162.99,614.42 L164.4,613.84 L165.82,613.27 L167.23,612.7 L168.65,612.14 L170.07,611.57 L171.49,611.01 L172.92,610.45 L174.34,609.89 L175.76,609.34 L177.19,608.78 L178.61,608.22 L180.03,607.67 L181.46,607.11 L182.88,606.55 L184.3,606 L185.72,605.44 L187.14,604.88 L188.56,604.32 L189.98,603.76 L191.4,603.2 L192.82,602.64 L194.23,602.08 L195.65,601.52 L197.06,600.95 L198.47,600.38 L199.88,599.81 L201.29,599.24 L202.7,598.67 L204.1,598.09 L205.5,597.52 L206.9,596.93 L208.3,596.35 L209.7,595.77 L211.09,595.18 L212.49,594.58 L213.88,593.99 L215.26,593.39 L216.65,592.79 L218.03,592.18 L219.41,591.57 L220.78,590.96 L222.16,590.34 L223.53,589.72 L224.89,589.09 L226.26,588.46 L227.62,587.83 L228.98,587.19 L230.33,586.54 L231.68,585.89 L233.03,585.24 L234.37,584.58 L235.71,583.91 L237.04,583.24 L238.38,582.56 L239.7,581.88 L241.03,581.19 L242.34,580.49 L243.66,579.79 L244.97,579.09 L246.27,578.37 L247.57,577.65 L248.87,576.92 L250.16,576.19 L251.45,575.44 L252.73,574.7 L254.01,573.94 L255.28,573.17 L256.54,572.4 L257.8,571.62 L259.06,570.84 L260.31,570.04 L261.55,569.24 L262.79,568.42 L264.03,567.6 L265.25,566.77 L266.48,565.94 L267.69,565.09 L268.9,564.23 L270.1,563.37 L271.3,562.49 L272.49,561.61 L273.68,560.72 L274.85,559.81 L276.02,558.9 L277.19,557.98 L278.35,557.04 L279.5,556.1 L280.64,555.15 L281.78,554.18 L282.91,553.21 L284.03,552.22 L285.14,551.22 L286.25,550.22 L287.35,549.2 L288.45,548.17 L289.53,547.12 L290.61,546.07 L291.68,545 L292.74,543.93 L293.79,542.84 L294.84,541.74 L295.88,540.63 L296.92,539.51 L297.95,538.39 L298.97,537.26 L300,536.12 L301.02,534.98 L302.04,533.84 L303.07,532.7 L304.09,531.56 L305.11,530.42 L306.14,529.28 L307.17,528.15 L308.2,527.02 L309.24,525.9 L310.28,524.79 L311.33,523.68 L312.39,522.59 L313.45,521.5 L314.53,520.43 L315.61,519.37 L316.71,518.33 L317.81,517.3 L318.93,516.29 L320.06,515.3 L321.2,514.32 L322.36,513.36 L323.52,512.41 L324.69,511.49 L325.88,510.57 L327.08,509.68 L328.28,508.8 L329.5,507.94 L330.73,507.09 L331.96,506.26 L333.21,505.45 L334.47,504.65 L335.73,503.87 L337,503.1 L338.29,502.35 L339.58,501.61 L340.88,500.9 L342.19,500.19 L343.5,499.5 L344.82,498.83 L346.15,498.18 L347.49,497.54 L348.84,496.91 L350.19,496.3 L351.55,495.71 L352.91,495.13 L354.29,494.57 L355.66,494.02 L357.05,493.49 L358.44,492.97 L359.83,492.47 L361.24,491.98 L362.64,491.51 L364.05,491.05 L365.47,490.6 L366.89,490.17 L368.32,489.75 L369.75,489.34 L371.19,488.95 L372.63,488.57 L374.07,488.2 L375.52,487.84 L376.97,487.5 L378.43,487.16 L379.89,486.84 L381.36,486.53 L382.83,486.23 L384.3,485.94 L385.78,485.66 L387.25,485.39 L388.74,485.13 L390.22,484.87 L391.71,484.63 L393.2,484.4 L394.69,484.17 L396.19,483.95 L397.69,483.74 L399.19,483.54 L400.69,483.35 L402.2,483.16 L403.7,482.98 L405.21,482.8 L406.72,482.63 L408.23,482.48 L409.74,482.36 L411.26,482.26 L412.77,482.18 L414.29,482.09 L415.81,482.01 L417.32,481.91 L418.84,481.8 L420.36,481.68 L421.88,481.53 L423.4,481.37 L424.92,481.19 L426.44,480.99 L427.96,480.77 L429.48,480.55 L431,480.32 L432.42,480.11 L433.91,479.9 L435.39,479.68 L436.88,479.47 L438.37,479.27 L439.86,479.06 L441.35,478.86 L442.83,478.66 L444.32,478.46 L445.81,478.26 L447.3,478.06 L448.79,477.87 L450.28,477.68 L451.77,477.49 L453.26,477.3 L454.75,477.12 L456.24,476.93 L457.73,476.75 L459.22,476.57 L460.71,476.39 L462.2,476.22 L463.69,476.05 L465.18,475.87 L466.67,475.7 L468.16,475.54 L469.66,475.37 L471.15,475.2 L472.64,475.04 L474.13,474.88 L475.62,474.72 L477.12,474.57 L478.61,474.41 L480.1,474.26 L481.6,474.1 L483.09,473.95 L484.58,473.81 L486.08,473.66 L487.57,473.51 L489.07,473.37 L490.56,473.23 L492.05,473.09 L493.55,472.95 L495.04,472.81 L496.54,472.68 L498.03,472.54 L499.53,472.41 L501.03,472.28 L502.52,472.15 L504.02,472.02 L505.51,471.9 L507.01,471.77 L508.51,471.65 L510,471.53 L511.5,471.41 L513,471.29 L514.49,471.17 L515.99,471.06 L517.49,470.94 L518.98,470.83 L520.48,470.72 L521.98,470.61 L523.48,470.5 L524.97,470.39 L526.47,470.28 L527.97,470.18 L529.47,470.07 L530.97,469.97 L532.47,469.87 L533.97,469.77 L535.46,469.67 L536.96,469.57 L538.46,469.48 L539.96,469.38 L541.46,469.29 L542.96,469.2 L544.46,469.1 L545.96,469.01 L547.46,468.92 L548.96,468.84 L550.46,468.75 L551.96,468.66 L553.46,468.58 L554.96,468.49 L556.46,468.41 L557.96,468.33 L559.46,468.25 L560.96,468.17 L562.47,468.09 L563.97,468.01 L565.47,467.93 L566.97,467.86 L568.47,467.78 L569.97,467.71 L571.47,467.64 L572.98,467.56 L574.48,467.49 L575.98,467.42 L577.48,467.35 L578.98,467.28 L580.49,467.21 L581.99,467.15 L583.49,467.08 L584.99,467.01 L586.5,466.95 L588,466.89 L589.5,466.82 L591,466.76 L592.51,466.7 L594.01,466.64 L595.51,466.58 L597.02,466.52 L598.52,466.46 L600.02,466.4 L601.53,466.34 L603.03,466.28 L604.53,466.22 L606.04,466.17 L607.54,466.11 L609.05,466.06 L610.55,466 L612.05,465.95 L613.56,465.9 L615.06,465.84 L616.57,465.79 L618.07,465.74 L619.57,465.69 L621.08,465.63 L622.58,465.58 L624.09,465.53 L625.59,465.48 L627.1,465.43 L628.6,465.38 L630.11,465.34 L631.61,465.29 L633.12,465.24 L634.62,465.19 L636.13,465.14 L637.63,465.1 L639.13,465.05 L640.64,465 L642.14,464.96 L643.65,464.91 L645.16,464.86 L646.66,464.82 L648.17,464.77 L649.67,464.73 L651.18,464.68 L652.68,464.64 L654.19,464.59 L655.69,464.55 L657.2,464.5 L658.7,464.46 L660.21,464.41 L661.71,464.37 L663.22,464.32 L664.72,464.28 L666.23,464.24 L667.74,464.19 L669.24,464.15 L670.75,464.1 L672.25,464.06 L673.76,464.01 L675.26,463.97 L676.77,463.93 L678.27,463.88 L679.78,463.84 L681.29,463.79 L682.79,463.75 L684.3,463.7 L685.8,463.66 L687.31,463.61 L688.81,463.57 L690.32,463.52 L691.82,463.47 L693.33,463.43 L694.84,463.38 L696.34,463.33 L697.85,463.29 L699.35,463.24 L700.86,463.19 L702.36,463.15 L703.87,463.1 L705.38,463.05 L706.88,463 L708.39,462.95 L709.89,462.9 L711.4,462.85 L712.9,462.8 L714.41,462.75 L715.91,462.7 L717.42,462.65 L718.92,462.6 L720.43,462.54 L721.93,462.49 L723.44,462.44 L724.95,462.38 L726.45,462.33 L727.96,462.27 L729.46,462.22 L730.97,462.16 L732.47,462.11 L733.98,462.05 L735.48,461.99 L736.99,461.93 L738.49,461.87 L740,461.81 L741.5,461.75 L743.01,461.69 L744.51,461.63 L746.01,461.57 L747.52,461.5 L749.02,461.44 L750.53,461.37 L752.03,461.31 L753.54,461.24 L755.04,461.18 L756.55,461.11 L758.05,461.04 L759.55,460.97 L761.06,460.9 L762.56,460.83 L764.07,460.76 L765.57,460.68 L767.07,460.61 L768.58,460.53 L770.08,460.46 L771.59,460.38 L773.09,460.3 L774.59,460.23 L776.1,460.15 L777.6,460.06 L779.1,459.98 L780.6,459.9 L782.11,459.82 L783.61,459.73 L785.11,459.64 L786.62,459.55 L788.12,459.47 L789.62,459.37 L791.12,459.28 L792.62,459.19 L794.13,459.09 L795.63,459 L797.13,458.9 L798.63,458.8 L800.13,458.7 L801.63,458.6 L803.13,458.49 L804.63,458.39 L806.13,458.28 L807.63,458.17 L809.13,458.06 L810.63,457.94 L812.13,457.83 L813.63,457.71 L815.13,457.59 L816.63,457.47 L818.12,457.35 L819.62,457.23 L821.12,457.1 L822.62,456.97 L824.11,456.84 L825.61,456.71 L827.11,456.57 L828.6,456.44 L830.1,456.3 L831.59,456.15 L833.09,456.01 L834.58,455.86 L836.08,455.72 L837.57,455.56 L839.06,455.41 L840.56,455.26 L842.05,455.1 L843.54,454.94 L845.04,454.77 L846.53,454.61 L848.02,454.44 L849.51,454.27 L851,454.09 L852.49,453.92 L853.98,453.74 L855.47,453.56 L856.96,453.37 L858.45,453.18 L859.93,452.99 L861.42,452.8 L862.91,452.6 L864.39,452.4 L865.88,452.2 L867.37,452 L868.85,451.79 L870.33,451.58 L871.82,451.36 L873.3,451.14 L874.79,450.92 L876.27,450.7 L877.75,450.47 L879.23,450.24 L880.71,450.01 L882.19,449.77 L883.67,449.53 L885.15,449.28 L886.63,449.04 L888.11,448.79 L889.59,448.53 L891.06,448.27 L892.54,448.01 L894.01,447.75 L895.49,447.48 L896.96,447.2 L898.44,446.93 L899.91,446.65 L901.38,446.36 L902.86,446.08 L904.33,445.79 L905.8,445.49 L907.27,445.19 L908.74,444.89 L910.21,444.58 L911.67,444.27 L913.14,443.96 L914.61,443.64 L916.07,443.31 L917.54,442.99 L919,442.65 L920.47,442.32 L921.93,441.98 L923.39,441.63 L924.85,441.29 L926.32,440.93 L927.78,440.58 L929.24,440.22 L930.69,439.85 L932.15,439.48 L933.61,439.1 L935.07,438.73 L936.52,438.34 L937.98,437.95 L939.43,437.56 L940.88,437.16 L942.34,436.76 L943.79,436.35 L945.24,435.94 L946.68,435.52 L948.13,435.09 L949.57,434.66 L951.01,434.22 L952.45,433.77 L953.89,433.31 L955.32,432.85 L956.75,432.37 L958.17,431.89 L959.59,431.39 L961.01,430.89 L962.42,430.37 L963.82,429.85 L965.22,429.31 L966.62,428.76 L968.01,428.2 L969.39,427.62 L970.77,427.03 L972.14,426.43 L973.51,425.82 L974.86,425.19 L976.21,424.54 L977.56,423.88 L978.89,423.21 L980.22,422.51 L981.54,421.8 L982.85,421.08 L984.15,420.34 L985.44,419.58 L986.72,418.8 L988,418 L989.26,417.19 L990.51,416.35 L991.76,415.49 L992.99,414.62 L994.21,413.72 L995.42,412.81 L996.62,411.87 L997.81,410.91 L998.98,409.93 L1000.15,408.92 L1001.3,407.89" stroke="#2a0505" stroke-width="0.95" fill="none" stroke-dasharray="4.5 1.6"/>
</g>
<g stroke="#3a0808" stroke-width="0.9" fill="none"><circle cx="450.1" cy="477.7" r="2.3"/><circle cx="496.6" cy="472.3" r="2.3"/><circle cx="543" cy="468.7" r="2.3"/><circle cx="589.5" cy="466.5" r="2.3"/><circle cx="636" cy="465.2" r="2.3"/><circle cx="729.1" cy="461.2" r="2.3"/><circle cx="766.7" cy="459.9" r="2.3"/><circle cx="797.8" cy="458.9" r="2.3"/><circle cx="823.9" cy="456.3" r="2.3"/><circle cx="861.5" cy="452.3" r="2.3"/><circle cx="920.9" cy="442.2" r="2.3"/><circle cx="940" cy="438.2" r="2.3"/><circle cx="949.2" cy="435.3" r="2.3"/><circle cx="959.8" cy="431.4" r="2.3"/><circle cx="971" cy="427" r="2.3"/><circle cx="981.5" cy="421.5" r="2.3"/><circle cx="990.7" cy="414.8" r="2.3"/><circle cx="1001.3" cy="407.9" r="2.3"/><circle cx="227" cy="587.1" r="2.3"/><circle cx="246" cy="578.4" r="2.3"/><circle cx="262.5" cy="569" r="2.3"/><circle cx="293" cy="544.2" r="2.3"/><circle cx="317.1" cy="517.7" r="2.3"/><circle cx="356.5" cy="492.9" r="2.3"/><circle cx="400.9" cy="484" r="2.3"/><circle cx="151.8" cy="618.8" r="2.3"/><path d="M75.3,759H80.3M77.8,756.5V761.5"/><path d="M75.3,731.8H80.3M77.8,729.3V734.3"/><path d="M75.7,722.6H80.7M78.2,720.1V725.1"/><path d="M75.7,717.5H80.7M78.2,715V720"/><path d="M76.1,707.7H81.1M78.6,705.2V710.2"/><path d="M76.7,698.1H81.7M79.2,695.6V700.6"/><path d="M78.7,686.5H83.7M81.2,684V689"/><path d="M82.2,672.6H87.2M84.7,670.1V675.1"/><path d="M91,660.3H96M93.5,657.8V662.8"/><path d="M99.2,650.7H104.2M101.7,648.2V653.2"/><path d="M110.4,640.9H115.4M112.9,638.4V643.4"/><path d="M208,594.9H213M210.5,592.4V597.4"/><path d="M274,558.9H279M276.5,556.4V561.4"/><path d="M299.4,534.8H304.4M301.9,532.3V537.3"/><path d="M309.5,523.3H314.5M312,520.8V525.8"/><path d="M337.5,500H342.5M340,497.5V502.5"/><path d="M406.5,483H411.5M409,480.5V485.5"/></g>
<!-- legends -->
<path d="M64.7,8.2H69.6" stroke="#b0202a" stroke-width="1.3"/>
<g clip-path="url(#lg1)"><text x="83" y="10.3" font-family="Liberation Sans, sans-serif" font-size="9.5" fill="#8a1a3a" fill-opacity="0.8" textLength="88" lengthAdjust="spacingAndGlyphs">Nb(3) - Desorption</text></g>
<path d="M77,403.6H95" stroke="#7a1020" stroke-width="1.5"/>
<path d="M84.5,403.6H88" stroke="#e02020" stroke-width="1.8"/>
<g clip-path="url(#lg2)"><text x="101.7" y="406.3" font-family="Liberation Sans, sans-serif" font-size="10" font-weight="bold" fill="#7a1a4a" textLength="87.5" lengthAdjust="spacingAndGlyphs">Nb(3) - Desorption</text></g>
<!-- axis titles -->
<g font-family="Liberation Sans, sans-serif" font-weight="bold" fill="#000">
<text x="410" y="398.8" font-size="24.6" textLength="282.1" lengthAdjust="spacingAndGlyphs">Relative pressure (P/Po)</text>
<text x="364.3" y="822" font-size="24.6" textLength="282.2" lengthAdjust="spacingAndGlyphs">Relative pressure (P/Po)</text>
<text transform="translate(22.8,330.8) rotate(-90)" font-size="24" textLength="325.1" lengthAdjust="spacingAndGlyphs">Quanty adsorbed cm<tspan font-size="13" dy="-9.5">3</tspan><tspan dy="9.5">/g STP</tspan></text>
<text transform="translate(38.3,757.4) rotate(-90)" font-size="24" textLength="326.3" lengthAdjust="spacingAndGlyphs">Quanty adsorbed cm<tspan font-size="13" dy="-9.5">3</tspan><tspan dy="9.5">/g STP</tspan></text>
</g>
</svg>
</body></html>
